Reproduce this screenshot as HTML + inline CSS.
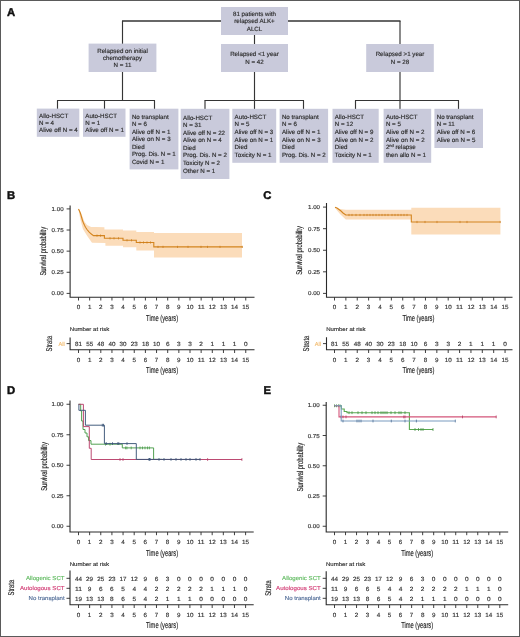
<!DOCTYPE html>
<html><head><meta charset="utf-8"><style>
html,body{margin:0;padding:0;background:#fff;}
svg{display:block;font-family:"Liberation Sans", sans-serif;-webkit-font-smoothing:antialiased;will-change:transform;text-rendering:geometricPrecision;filter:blur(0.25px);}
</style></head><body>
<svg width="520" height="637" viewBox="0 0 520 637">
<rect x="0" y="0" width="520" height="637" fill="#fff"/>
<line x1="122" y1="21" x2="400.5" y2="21" stroke="#353535" stroke-width="1.4"/>
<line x1="122.5" y1="21" x2="122.5" y2="44" stroke="#353535" stroke-width="1.15"/>
<line x1="122.5" y1="72" x2="122.5" y2="100.5" stroke="#353535" stroke-width="1.15"/>
<line x1="254.5" y1="35" x2="254.5" y2="44" stroke="#353535" stroke-width="1.15"/>
<line x1="254.5" y1="72" x2="254.5" y2="100.5" stroke="#353535" stroke-width="1.15"/>
<line x1="400" y1="21" x2="400" y2="44" stroke="#353535" stroke-width="1.15"/>
<line x1="400" y1="72" x2="400" y2="100.5" stroke="#353535" stroke-width="1.15"/>
<line x1="57.0" y1="100.5" x2="155.0" y2="100.5" stroke="#353535" stroke-width="1.15"/>
<line x1="204.5" y1="100.5" x2="304.0" y2="100.5" stroke="#353535" stroke-width="1.15"/>
<line x1="355.0" y1="100.5" x2="459.0" y2="100.5" stroke="#353535" stroke-width="1.15"/>
<line x1="57.5" y1="100.5" x2="57.5" y2="109" stroke="#353535" stroke-width="1.15"/>
<line x1="104.5" y1="100.5" x2="104.5" y2="109" stroke="#353535" stroke-width="1.15"/>
<line x1="154.5" y1="100.5" x2="154.5" y2="109" stroke="#353535" stroke-width="1.15"/>
<line x1="205" y1="100.5" x2="205" y2="109" stroke="#353535" stroke-width="1.15"/>
<line x1="254.5" y1="100.5" x2="254.5" y2="109" stroke="#353535" stroke-width="1.15"/>
<line x1="303.5" y1="100.5" x2="303.5" y2="109" stroke="#353535" stroke-width="1.15"/>
<line x1="355.5" y1="100.5" x2="355.5" y2="109" stroke="#353535" stroke-width="1.15"/>
<line x1="400" y1="100.5" x2="400" y2="109" stroke="#353535" stroke-width="1.15"/>
<line x1="458.5" y1="100.5" x2="458.5" y2="109" stroke="#353535" stroke-width="1.15"/>
<rect x="221" y="7" width="67" height="28" fill="#c9cadb"/>
<text x="254.50" y="15.60" font-size="6.2" stroke="#2e2e2e" stroke-width="0.16" text-anchor="middle" fill="#2e2e2e">81 patients with</text>
<text x="254.50" y="23.10" font-size="6.2" stroke="#2e2e2e" stroke-width="0.16" text-anchor="middle" fill="#2e2e2e">relapsed ALK+</text>
<text x="254.50" y="30.60" font-size="6.2" stroke="#2e2e2e" stroke-width="0.16" text-anchor="middle" fill="#2e2e2e">ALCL</text>
<rect x="88.6" y="43.6" width="67.80000000000001" height="28.4" fill="#c9cadb"/>
<text x="122.50" y="52.50" font-size="6.2" stroke="#2e2e2e" stroke-width="0.16" text-anchor="middle" fill="#2e2e2e">Relapsed on initial</text>
<text x="122.50" y="59.90" font-size="6.2" stroke="#2e2e2e" stroke-width="0.16" text-anchor="middle" fill="#2e2e2e">chemotherapy</text>
<text x="122.50" y="67.30" font-size="6.2" stroke="#2e2e2e" stroke-width="0.16" text-anchor="middle" fill="#2e2e2e">N = 11</text>
<rect x="221" y="44" width="67" height="28" fill="#c9cadb"/>
<text x="254.50" y="56.30" font-size="6.2" stroke="#2e2e2e" stroke-width="0.16" text-anchor="middle" fill="#2e2e2e">Relapsed &lt;1 year</text>
<text x="254.50" y="63.90" font-size="6.2" stroke="#2e2e2e" stroke-width="0.16" text-anchor="middle" fill="#2e2e2e">N = 42</text>
<rect x="366.2" y="44" width="67.60000000000002" height="28" fill="#c9cadb"/>
<text x="400.00" y="56.30" font-size="6.2" stroke="#2e2e2e" stroke-width="0.16" text-anchor="middle" fill="#2e2e2e">Relapsed &gt;1 year</text>
<text x="400.00" y="63.90" font-size="6.2" stroke="#2e2e2e" stroke-width="0.16" text-anchor="middle" fill="#2e2e2e">N = 28</text>
<rect x="36.8" y="108.6" width="42.5" height="28.200000000000017" fill="#c9cadb"/>
<text x="39.10" y="117.50" font-size="6.2" stroke="#2e2e2e" stroke-width="0.16" fill="#2e2e2e">Allo-HSCT</text>
<text x="39.10" y="124.95" font-size="6.2" stroke="#2e2e2e" stroke-width="0.16" fill="#2e2e2e">N = 4</text>
<text x="39.10" y="132.40" font-size="6.2" stroke="#2e2e2e" stroke-width="0.16" fill="#2e2e2e">Alive off N = 4</text>
<rect x="83" y="108.6" width="42.5" height="28.200000000000017" fill="#c9cadb"/>
<text x="85.30" y="117.50" font-size="6.2" stroke="#2e2e2e" stroke-width="0.16" fill="#2e2e2e">Auto-HSCT</text>
<text x="85.30" y="124.95" font-size="6.2" stroke="#2e2e2e" stroke-width="0.16" fill="#2e2e2e">N = 1</text>
<text x="85.30" y="132.40" font-size="6.2" stroke="#2e2e2e" stroke-width="0.16" fill="#2e2e2e">Alive off N = 1</text>
<rect x="129.6" y="108.7" width="48.80000000000001" height="60.7" fill="#c9cadb"/>
<text x="131.90" y="118.70" font-size="6.2" stroke="#2e2e2e" stroke-width="0.16" fill="#2e2e2e">No transplant</text>
<text x="131.90" y="126.20" font-size="6.2" stroke="#2e2e2e" stroke-width="0.16" fill="#2e2e2e">N = 6</text>
<text x="131.90" y="133.70" font-size="6.2" stroke="#2e2e2e" stroke-width="0.16" fill="#2e2e2e">Alive off N = 1</text>
<text x="131.90" y="141.20" font-size="6.2" stroke="#2e2e2e" stroke-width="0.16" fill="#2e2e2e">Alive on N = 3</text>
<text x="131.90" y="148.70" font-size="6.2" stroke="#2e2e2e" stroke-width="0.16" fill="#2e2e2e">Died</text>
<text x="131.90" y="156.20" font-size="6.2" stroke="#2e2e2e" stroke-width="0.16" fill="#2e2e2e">Prog. Dis. N = 1</text>
<text x="131.90" y="163.70" font-size="6.2" stroke="#2e2e2e" stroke-width="0.16" fill="#2e2e2e">Covid N = 1</text>
<rect x="180.7" y="108.8" width="48.70000000000002" height="70.2" fill="#c9cadb"/>
<text x="183.00" y="119.60" font-size="6.2" stroke="#2e2e2e" stroke-width="0.16" fill="#2e2e2e">Allo-HSCT</text>
<text x="183.00" y="127.16" font-size="6.2" stroke="#2e2e2e" stroke-width="0.16" fill="#2e2e2e">N = 31</text>
<text x="183.00" y="134.72" font-size="6.2" stroke="#2e2e2e" stroke-width="0.16" fill="#2e2e2e">Alive off N = 22</text>
<text x="183.00" y="142.28" font-size="6.2" stroke="#2e2e2e" stroke-width="0.16" fill="#2e2e2e">Alive on N = 4</text>
<text x="183.00" y="149.84" font-size="6.2" stroke="#2e2e2e" stroke-width="0.16" fill="#2e2e2e">Died</text>
<text x="183.00" y="157.40" font-size="6.2" stroke="#2e2e2e" stroke-width="0.16" fill="#2e2e2e">Prog. Dis. N = 2</text>
<text x="183.00" y="164.96" font-size="6.2" stroke="#2e2e2e" stroke-width="0.16" fill="#2e2e2e">Toxicity N = 2</text>
<text x="183.00" y="172.52" font-size="6.2" stroke="#2e2e2e" stroke-width="0.16" fill="#2e2e2e">Other N = 1</text>
<rect x="232.3" y="108.8" width="43.89999999999998" height="54.000000000000014" fill="#c9cadb"/>
<text x="234.60" y="118.80" font-size="6.2" stroke="#2e2e2e" stroke-width="0.16" fill="#2e2e2e">Auto-HSCT</text>
<text x="234.60" y="126.40" font-size="6.2" stroke="#2e2e2e" stroke-width="0.16" fill="#2e2e2e">N = 5</text>
<text x="234.60" y="134.00" font-size="6.2" stroke="#2e2e2e" stroke-width="0.16" fill="#2e2e2e">Alive off N = 3</text>
<text x="234.60" y="141.60" font-size="6.2" stroke="#2e2e2e" stroke-width="0.16" fill="#2e2e2e">Alive on N = 1</text>
<text x="234.60" y="149.20" font-size="6.2" stroke="#2e2e2e" stroke-width="0.16" fill="#2e2e2e">Died</text>
<text x="234.60" y="156.80" font-size="6.2" stroke="#2e2e2e" stroke-width="0.16" fill="#2e2e2e">Toxicity N = 1</text>
<rect x="279.6" y="108.8" width="48.5" height="54.000000000000014" fill="#c9cadb"/>
<text x="281.90" y="118.80" font-size="6.2" stroke="#2e2e2e" stroke-width="0.16" fill="#2e2e2e">No transplant</text>
<text x="281.90" y="126.40" font-size="6.2" stroke="#2e2e2e" stroke-width="0.16" fill="#2e2e2e">N = 6</text>
<text x="281.90" y="134.00" font-size="6.2" stroke="#2e2e2e" stroke-width="0.16" fill="#2e2e2e">Alive off N = 1</text>
<text x="281.90" y="141.60" font-size="6.2" stroke="#2e2e2e" stroke-width="0.16" fill="#2e2e2e">Alive on N = 3</text>
<text x="281.90" y="149.20" font-size="6.2" stroke="#2e2e2e" stroke-width="0.16" fill="#2e2e2e">Died</text>
<text x="281.90" y="156.80" font-size="6.2" stroke="#2e2e2e" stroke-width="0.16" fill="#2e2e2e">Prog. Dis. N = 2</text>
<rect x="332.5" y="108.8" width="46.19999999999999" height="54.000000000000014" fill="#c9cadb"/>
<text x="334.80" y="118.80" font-size="6.2" stroke="#2e2e2e" stroke-width="0.16" fill="#2e2e2e">Allo-HSCT</text>
<text x="334.80" y="126.40" font-size="6.2" stroke="#2e2e2e" stroke-width="0.16" fill="#2e2e2e">N = 12</text>
<text x="334.80" y="134.00" font-size="6.2" stroke="#2e2e2e" stroke-width="0.16" fill="#2e2e2e">Alive off N = 9</text>
<text x="334.80" y="141.60" font-size="6.2" stroke="#2e2e2e" stroke-width="0.16" fill="#2e2e2e">Alive on N = 2</text>
<text x="334.80" y="149.20" font-size="6.2" stroke="#2e2e2e" stroke-width="0.16" fill="#2e2e2e">Died</text>
<text x="334.80" y="156.80" font-size="6.2" stroke="#2e2e2e" stroke-width="0.16" fill="#2e2e2e">Toxicity N = 1</text>
<rect x="383.6" y="108.8" width="47.599999999999966" height="54.000000000000014" fill="#c9cadb"/>
<text x="385.90" y="118.80" font-size="6.2" stroke="#2e2e2e" stroke-width="0.16" fill="#2e2e2e">Auto-HSCT</text>
<text x="385.90" y="126.40" font-size="6.2" stroke="#2e2e2e" stroke-width="0.16" fill="#2e2e2e">N = 5</text>
<text x="385.90" y="134.00" font-size="6.2" stroke="#2e2e2e" stroke-width="0.16" fill="#2e2e2e">Alive off N = 2</text>
<text x="385.90" y="141.60" font-size="6.2" stroke="#2e2e2e" stroke-width="0.16" fill="#2e2e2e">Alive on N = 2</text>
<text x="385.90" y="149.20" font-size="6.2" fill="#2e2e2e" stroke="#2e2e2e" stroke-width="0.16">2<tspan font-size="4" dy="-2.3">nd</tspan><tspan dy="2.3"> relapse</tspan></text>
<text x="385.90" y="156.80" font-size="6.2" stroke="#2e2e2e" stroke-width="0.16" fill="#2e2e2e">then allo N = 1</text>
<rect x="434.4" y="108.8" width="48.60000000000002" height="39.2" fill="#c9cadb"/>
<text x="436.70" y="118.80" font-size="6.2" stroke="#2e2e2e" stroke-width="0.16" fill="#2e2e2e">No transplant</text>
<text x="436.70" y="126.40" font-size="6.2" stroke="#2e2e2e" stroke-width="0.16" fill="#2e2e2e">N = 11</text>
<text x="436.70" y="134.00" font-size="6.2" stroke="#2e2e2e" stroke-width="0.16" fill="#2e2e2e">Alive off N = 6</text>
<text x="436.70" y="141.60" font-size="6.2" stroke="#2e2e2e" stroke-width="0.16" fill="#2e2e2e">Alive on N = 5</text>
<text x="6.90" y="16.30" font-size="11.3" stroke="#111" stroke-width="0.45" fill="#111" font-weight="bold">A</text>
<text x="7.10" y="199.00" font-size="11.3" stroke="#111" stroke-width="0.45" fill="#111" font-weight="bold">B</text>
<text x="263.30" y="199.10" font-size="11.3" stroke="#111" stroke-width="0.45" fill="#111" font-weight="bold">C</text>
<text x="7.10" y="394.20" font-size="11.3" stroke="#111" stroke-width="0.45" fill="#111" font-weight="bold">D</text>
<text x="263.60" y="394.20" font-size="11.3" stroke="#111" stroke-width="0.45" fill="#111" font-weight="bold">E</text>
<path d="M78.50 208.90 L80.50 212.00 L82.50 216.50 L84.30 221.50 L87.00 225.00 L91.20 227.10 L96.00 227.10 L104.40 227.30 L104.40 229.40 L123.00 229.40 L123.00 230.60 L136.30 230.60 L136.30 232.00 L154.00 232.00 L154.00 233.00 L242.00 233.00 L242.00 257.60 L154.00 257.60 L154.00 250.60 L136.30 250.60 L136.30 247.30 L123.00 247.30 L123.00 245.70 L105.40 245.70 L105.40 243.00 L92.00 242.70 L87.10 235.80 L82.90 228.90 L80.50 220.00 L78.50 210.00 Z" fill="#fbdcba"/>
<path d="M78.50 208.90 L79.50 211.00 L80.50 213.50 L81.50 217.00 L82.50 220.50 L83.40 222.80 L84.50 225.20 L85.50 227.20 L87.00 229.50 L89.00 231.80 L91.00 233.80 L93.50 235.60 L104.40 235.60 L104.40 238.30 L123.00 238.30 L123.00 240.30 L136.30 240.30 L136.30 242.50 L153.80 242.50 L153.80 246.90 L242.50 246.90" fill="none" stroke="#d4841e" stroke-width="1.1"/>
<line x1="97" y1="234.5" x2="97" y2="236.7" stroke="#c87a1a" stroke-width="0.7"/>
<line x1="100.5" y1="234.5" x2="100.5" y2="236.7" stroke="#c87a1a" stroke-width="0.7"/>
<line x1="110" y1="237.20000000000002" x2="110" y2="239.4" stroke="#c87a1a" stroke-width="0.7"/>
<line x1="114" y1="237.20000000000002" x2="114" y2="239.4" stroke="#c87a1a" stroke-width="0.7"/>
<line x1="118.5" y1="237.20000000000002" x2="118.5" y2="239.4" stroke="#c87a1a" stroke-width="0.7"/>
<line x1="127" y1="239.20000000000002" x2="127" y2="241.4" stroke="#c87a1a" stroke-width="0.7"/>
<line x1="131.5" y1="239.20000000000002" x2="131.5" y2="241.4" stroke="#c87a1a" stroke-width="0.7"/>
<line x1="140" y1="241.4" x2="140" y2="243.6" stroke="#c87a1a" stroke-width="0.7"/>
<line x1="143.5" y1="241.4" x2="143.5" y2="243.6" stroke="#c87a1a" stroke-width="0.7"/>
<line x1="147" y1="241.4" x2="147" y2="243.6" stroke="#c87a1a" stroke-width="0.7"/>
<line x1="150.5" y1="241.4" x2="150.5" y2="243.6" stroke="#c87a1a" stroke-width="0.7"/>
<line x1="158" y1="245.8" x2="158" y2="248.0" stroke="#c87a1a" stroke-width="0.7"/>
<line x1="163" y1="245.8" x2="163" y2="248.0" stroke="#c87a1a" stroke-width="0.7"/>
<line x1="177.5" y1="245.8" x2="177.5" y2="248.0" stroke="#c87a1a" stroke-width="0.7"/>
<line x1="188" y1="245.8" x2="188" y2="248.0" stroke="#c87a1a" stroke-width="0.7"/>
<line x1="201" y1="245.8" x2="201" y2="248.0" stroke="#c87a1a" stroke-width="0.7"/>
<line x1="207.5" y1="245.8" x2="207.5" y2="248.0" stroke="#c87a1a" stroke-width="0.7"/>
<line x1="220" y1="245.8" x2="220" y2="248.0" stroke="#c87a1a" stroke-width="0.7"/>
<line x1="242.3" y1="245.8" x2="242.3" y2="248.0" stroke="#c87a1a" stroke-width="0.7"/>
<line x1="66.6" y1="293.4" x2="70.1" y2="293.4" stroke="#2a2a2a" stroke-width="0.9"/>
<text x="63.60" y="295.40" font-size="5.8" stroke="#333" stroke-width="0.15" text-anchor="end" textLength="12.00" lengthAdjust="spacingAndGlyphs" fill="#333">0.00</text>
<line x1="66.6" y1="272.275" x2="70.1" y2="272.275" stroke="#2a2a2a" stroke-width="0.9"/>
<text x="63.60" y="274.27" font-size="5.8" stroke="#333" stroke-width="0.15" text-anchor="end" textLength="12.00" lengthAdjust="spacingAndGlyphs" fill="#333">0.25</text>
<line x1="66.6" y1="251.14999999999998" x2="70.1" y2="251.14999999999998" stroke="#2a2a2a" stroke-width="0.9"/>
<text x="63.60" y="253.15" font-size="5.8" stroke="#333" stroke-width="0.15" text-anchor="end" textLength="12.00" lengthAdjust="spacingAndGlyphs" fill="#333">0.50</text>
<line x1="66.6" y1="230.02499999999998" x2="70.1" y2="230.02499999999998" stroke="#2a2a2a" stroke-width="0.9"/>
<text x="63.60" y="232.02" font-size="5.8" stroke="#333" stroke-width="0.15" text-anchor="end" textLength="12.00" lengthAdjust="spacingAndGlyphs" fill="#333">0.75</text>
<line x1="66.6" y1="208.89999999999998" x2="70.1" y2="208.89999999999998" stroke="#2a2a2a" stroke-width="0.9"/>
<text x="63.60" y="210.90" font-size="5.8" stroke="#333" stroke-width="0.15" text-anchor="end" textLength="12.00" lengthAdjust="spacingAndGlyphs" fill="#333">1.00</text>
<line x1="78.5" y1="297.3" x2="78.5" y2="300.5" stroke="#2a2a2a" stroke-width="0.9"/>
<text x="78.50" y="309.10" font-size="6.0" stroke="#333" stroke-width="0.15" text-anchor="middle" textLength="3.50" lengthAdjust="spacingAndGlyphs" fill="#333">0</text>
<line x1="89.65" y1="297.3" x2="89.65" y2="300.5" stroke="#2a2a2a" stroke-width="0.9"/>
<text x="89.65" y="309.10" font-size="6.0" stroke="#333" stroke-width="0.15" text-anchor="middle" textLength="3.50" lengthAdjust="spacingAndGlyphs" fill="#333">1</text>
<line x1="100.8" y1="297.3" x2="100.8" y2="300.5" stroke="#2a2a2a" stroke-width="0.9"/>
<text x="100.80" y="309.10" font-size="6.0" stroke="#333" stroke-width="0.15" text-anchor="middle" textLength="3.50" lengthAdjust="spacingAndGlyphs" fill="#333">2</text>
<line x1="111.95" y1="297.3" x2="111.95" y2="300.5" stroke="#2a2a2a" stroke-width="0.9"/>
<text x="111.95" y="309.10" font-size="6.0" stroke="#333" stroke-width="0.15" text-anchor="middle" textLength="3.50" lengthAdjust="spacingAndGlyphs" fill="#333">3</text>
<line x1="123.1" y1="297.3" x2="123.1" y2="300.5" stroke="#2a2a2a" stroke-width="0.9"/>
<text x="123.10" y="309.10" font-size="6.0" stroke="#333" stroke-width="0.15" text-anchor="middle" textLength="3.50" lengthAdjust="spacingAndGlyphs" fill="#333">4</text>
<line x1="134.25" y1="297.3" x2="134.25" y2="300.5" stroke="#2a2a2a" stroke-width="0.9"/>
<text x="134.25" y="309.10" font-size="6.0" stroke="#333" stroke-width="0.15" text-anchor="middle" textLength="3.50" lengthAdjust="spacingAndGlyphs" fill="#333">5</text>
<line x1="145.4" y1="297.3" x2="145.4" y2="300.5" stroke="#2a2a2a" stroke-width="0.9"/>
<text x="145.40" y="309.10" font-size="6.0" stroke="#333" stroke-width="0.15" text-anchor="middle" textLength="3.50" lengthAdjust="spacingAndGlyphs" fill="#333">6</text>
<line x1="156.55" y1="297.3" x2="156.55" y2="300.5" stroke="#2a2a2a" stroke-width="0.9"/>
<text x="156.55" y="309.10" font-size="6.0" stroke="#333" stroke-width="0.15" text-anchor="middle" textLength="3.50" lengthAdjust="spacingAndGlyphs" fill="#333">7</text>
<line x1="167.7" y1="297.3" x2="167.7" y2="300.5" stroke="#2a2a2a" stroke-width="0.9"/>
<text x="167.70" y="309.10" font-size="6.0" stroke="#333" stroke-width="0.15" text-anchor="middle" textLength="3.50" lengthAdjust="spacingAndGlyphs" fill="#333">8</text>
<line x1="178.85000000000002" y1="297.3" x2="178.85000000000002" y2="300.5" stroke="#2a2a2a" stroke-width="0.9"/>
<text x="178.85" y="309.10" font-size="6.0" stroke="#333" stroke-width="0.15" text-anchor="middle" textLength="3.50" lengthAdjust="spacingAndGlyphs" fill="#333">9</text>
<line x1="190.0" y1="297.3" x2="190.0" y2="300.5" stroke="#2a2a2a" stroke-width="0.9"/>
<text x="190.00" y="309.10" font-size="6.0" stroke="#333" stroke-width="0.15" text-anchor="middle" textLength="7.00" lengthAdjust="spacingAndGlyphs" fill="#333">10</text>
<line x1="201.15" y1="297.3" x2="201.15" y2="300.5" stroke="#2a2a2a" stroke-width="0.9"/>
<text x="201.15" y="309.10" font-size="6.0" stroke="#333" stroke-width="0.15" text-anchor="middle" textLength="7.00" lengthAdjust="spacingAndGlyphs" fill="#333">11</text>
<line x1="212.3" y1="297.3" x2="212.3" y2="300.5" stroke="#2a2a2a" stroke-width="0.9"/>
<text x="212.30" y="309.10" font-size="6.0" stroke="#333" stroke-width="0.15" text-anchor="middle" textLength="7.00" lengthAdjust="spacingAndGlyphs" fill="#333">12</text>
<line x1="223.45000000000002" y1="297.3" x2="223.45000000000002" y2="300.5" stroke="#2a2a2a" stroke-width="0.9"/>
<text x="223.45" y="309.10" font-size="6.0" stroke="#333" stroke-width="0.15" text-anchor="middle" textLength="7.00" lengthAdjust="spacingAndGlyphs" fill="#333">13</text>
<line x1="234.6" y1="297.3" x2="234.6" y2="300.5" stroke="#2a2a2a" stroke-width="0.9"/>
<text x="234.60" y="309.10" font-size="6.0" stroke="#333" stroke-width="0.15" text-anchor="middle" textLength="7.00" lengthAdjust="spacingAndGlyphs" fill="#333">14</text>
<line x1="245.75" y1="297.3" x2="245.75" y2="300.5" stroke="#2a2a2a" stroke-width="0.9"/>
<text x="245.75" y="309.10" font-size="6.0" stroke="#333" stroke-width="0.15" text-anchor="middle" textLength="7.00" lengthAdjust="spacingAndGlyphs" fill="#333">15</text>
<path d="M70.1 205.5 V297.3 H254.5" fill="none" stroke="#2a2a2a" stroke-width="1.1"/>
<text x="162.12" y="320.90" font-size="8.7" stroke="#222" stroke-width="0.15" text-anchor="middle" textLength="32.00" lengthAdjust="spacingAndGlyphs" fill="#222">Time (years)</text>
<text x="46.00" y="251.25" font-size="8.5" stroke="#222" stroke-width="0.15" text-anchor="middle" textLength="48.70" lengthAdjust="spacingAndGlyphs" fill="#222" transform="rotate(-90 46.00 251.25)">Survival probability</text>
<text x="69.80" y="331.30" font-size="5.5" stroke="#333" stroke-width="0.15" textLength="39.40" lengthAdjust="spacingAndGlyphs" fill="#333">Number at risk</text>
<line x1="66.6" y1="343.6" x2="70.1" y2="343.6" stroke="#2a2a2a" stroke-width="0.9"/>
<text x="64.70" y="345.60" font-size="5.7" stroke="#f2bd72" stroke-width="0.15" text-anchor="end" textLength="6.30" lengthAdjust="spacingAndGlyphs" fill="#f2bd72">All</text>
<text x="78.50" y="345.80" font-size="6.0" stroke="#333" stroke-width="0.15" text-anchor="middle" textLength="7.00" lengthAdjust="spacingAndGlyphs" fill="#333">81</text>
<text x="89.65" y="345.80" font-size="6.0" stroke="#333" stroke-width="0.15" text-anchor="middle" textLength="7.00" lengthAdjust="spacingAndGlyphs" fill="#333">55</text>
<text x="100.80" y="345.80" font-size="6.0" stroke="#333" stroke-width="0.15" text-anchor="middle" textLength="7.00" lengthAdjust="spacingAndGlyphs" fill="#333">48</text>
<text x="111.95" y="345.80" font-size="6.0" stroke="#333" stroke-width="0.15" text-anchor="middle" textLength="7.00" lengthAdjust="spacingAndGlyphs" fill="#333">40</text>
<text x="123.10" y="345.80" font-size="6.0" stroke="#333" stroke-width="0.15" text-anchor="middle" textLength="7.00" lengthAdjust="spacingAndGlyphs" fill="#333">30</text>
<text x="134.25" y="345.80" font-size="6.0" stroke="#333" stroke-width="0.15" text-anchor="middle" textLength="7.00" lengthAdjust="spacingAndGlyphs" fill="#333">23</text>
<text x="145.40" y="345.80" font-size="6.0" stroke="#333" stroke-width="0.15" text-anchor="middle" textLength="7.00" lengthAdjust="spacingAndGlyphs" fill="#333">18</text>
<text x="156.55" y="345.80" font-size="6.0" stroke="#333" stroke-width="0.15" text-anchor="middle" textLength="7.00" lengthAdjust="spacingAndGlyphs" fill="#333">10</text>
<text x="167.70" y="345.80" font-size="6.0" stroke="#333" stroke-width="0.15" text-anchor="middle" textLength="3.60" lengthAdjust="spacingAndGlyphs" fill="#333">6</text>
<text x="178.85" y="345.80" font-size="6.0" stroke="#333" stroke-width="0.15" text-anchor="middle" textLength="3.60" lengthAdjust="spacingAndGlyphs" fill="#333">3</text>
<text x="190.00" y="345.80" font-size="6.0" stroke="#333" stroke-width="0.15" text-anchor="middle" textLength="3.60" lengthAdjust="spacingAndGlyphs" fill="#333">3</text>
<text x="201.15" y="345.80" font-size="6.0" stroke="#333" stroke-width="0.15" text-anchor="middle" textLength="3.60" lengthAdjust="spacingAndGlyphs" fill="#333">2</text>
<text x="212.30" y="345.80" font-size="6.0" stroke="#333" stroke-width="0.15" text-anchor="middle" textLength="3.60" lengthAdjust="spacingAndGlyphs" fill="#333">1</text>
<text x="223.45" y="345.80" font-size="6.0" stroke="#333" stroke-width="0.15" text-anchor="middle" textLength="3.60" lengthAdjust="spacingAndGlyphs" fill="#333">1</text>
<text x="234.60" y="345.80" font-size="6.0" stroke="#333" stroke-width="0.15" text-anchor="middle" textLength="3.60" lengthAdjust="spacingAndGlyphs" fill="#333">1</text>
<text x="245.75" y="345.80" font-size="6.0" stroke="#333" stroke-width="0.15" text-anchor="middle" textLength="3.60" lengthAdjust="spacingAndGlyphs" fill="#333">0</text>
<line x1="78.5" y1="349.8" x2="78.5" y2="353.0" stroke="#2a2a2a" stroke-width="0.9"/>
<text x="78.50" y="361.60" font-size="6.0" stroke="#333" stroke-width="0.15" text-anchor="middle" textLength="3.50" lengthAdjust="spacingAndGlyphs" fill="#333">0</text>
<line x1="89.65" y1="349.8" x2="89.65" y2="353.0" stroke="#2a2a2a" stroke-width="0.9"/>
<text x="89.65" y="361.60" font-size="6.0" stroke="#333" stroke-width="0.15" text-anchor="middle" textLength="3.50" lengthAdjust="spacingAndGlyphs" fill="#333">1</text>
<line x1="100.8" y1="349.8" x2="100.8" y2="353.0" stroke="#2a2a2a" stroke-width="0.9"/>
<text x="100.80" y="361.60" font-size="6.0" stroke="#333" stroke-width="0.15" text-anchor="middle" textLength="3.50" lengthAdjust="spacingAndGlyphs" fill="#333">2</text>
<line x1="111.95" y1="349.8" x2="111.95" y2="353.0" stroke="#2a2a2a" stroke-width="0.9"/>
<text x="111.95" y="361.60" font-size="6.0" stroke="#333" stroke-width="0.15" text-anchor="middle" textLength="3.50" lengthAdjust="spacingAndGlyphs" fill="#333">3</text>
<line x1="123.1" y1="349.8" x2="123.1" y2="353.0" stroke="#2a2a2a" stroke-width="0.9"/>
<text x="123.10" y="361.60" font-size="6.0" stroke="#333" stroke-width="0.15" text-anchor="middle" textLength="3.50" lengthAdjust="spacingAndGlyphs" fill="#333">4</text>
<line x1="134.25" y1="349.8" x2="134.25" y2="353.0" stroke="#2a2a2a" stroke-width="0.9"/>
<text x="134.25" y="361.60" font-size="6.0" stroke="#333" stroke-width="0.15" text-anchor="middle" textLength="3.50" lengthAdjust="spacingAndGlyphs" fill="#333">5</text>
<line x1="145.4" y1="349.8" x2="145.4" y2="353.0" stroke="#2a2a2a" stroke-width="0.9"/>
<text x="145.40" y="361.60" font-size="6.0" stroke="#333" stroke-width="0.15" text-anchor="middle" textLength="3.50" lengthAdjust="spacingAndGlyphs" fill="#333">6</text>
<line x1="156.55" y1="349.8" x2="156.55" y2="353.0" stroke="#2a2a2a" stroke-width="0.9"/>
<text x="156.55" y="361.60" font-size="6.0" stroke="#333" stroke-width="0.15" text-anchor="middle" textLength="3.50" lengthAdjust="spacingAndGlyphs" fill="#333">7</text>
<line x1="167.7" y1="349.8" x2="167.7" y2="353.0" stroke="#2a2a2a" stroke-width="0.9"/>
<text x="167.70" y="361.60" font-size="6.0" stroke="#333" stroke-width="0.15" text-anchor="middle" textLength="3.50" lengthAdjust="spacingAndGlyphs" fill="#333">8</text>
<line x1="178.85000000000002" y1="349.8" x2="178.85000000000002" y2="353.0" stroke="#2a2a2a" stroke-width="0.9"/>
<text x="178.85" y="361.60" font-size="6.0" stroke="#333" stroke-width="0.15" text-anchor="middle" textLength="3.50" lengthAdjust="spacingAndGlyphs" fill="#333">9</text>
<line x1="190.0" y1="349.8" x2="190.0" y2="353.0" stroke="#2a2a2a" stroke-width="0.9"/>
<text x="190.00" y="361.60" font-size="6.0" stroke="#333" stroke-width="0.15" text-anchor="middle" textLength="7.00" lengthAdjust="spacingAndGlyphs" fill="#333">10</text>
<line x1="201.15" y1="349.8" x2="201.15" y2="353.0" stroke="#2a2a2a" stroke-width="0.9"/>
<text x="201.15" y="361.60" font-size="6.0" stroke="#333" stroke-width="0.15" text-anchor="middle" textLength="7.00" lengthAdjust="spacingAndGlyphs" fill="#333">11</text>
<line x1="212.3" y1="349.8" x2="212.3" y2="353.0" stroke="#2a2a2a" stroke-width="0.9"/>
<text x="212.30" y="361.60" font-size="6.0" stroke="#333" stroke-width="0.15" text-anchor="middle" textLength="7.00" lengthAdjust="spacingAndGlyphs" fill="#333">12</text>
<line x1="223.45000000000002" y1="349.8" x2="223.45000000000002" y2="353.0" stroke="#2a2a2a" stroke-width="0.9"/>
<text x="223.45" y="361.60" font-size="6.0" stroke="#333" stroke-width="0.15" text-anchor="middle" textLength="7.00" lengthAdjust="spacingAndGlyphs" fill="#333">13</text>
<line x1="234.6" y1="349.8" x2="234.6" y2="353.0" stroke="#2a2a2a" stroke-width="0.9"/>
<text x="234.60" y="361.60" font-size="6.0" stroke="#333" stroke-width="0.15" text-anchor="middle" textLength="7.00" lengthAdjust="spacingAndGlyphs" fill="#333">14</text>
<line x1="245.75" y1="349.8" x2="245.75" y2="353.0" stroke="#2a2a2a" stroke-width="0.9"/>
<text x="245.75" y="361.60" font-size="6.0" stroke="#333" stroke-width="0.15" text-anchor="middle" textLength="7.00" lengthAdjust="spacingAndGlyphs" fill="#333">15</text>
<path d="M70.1 337.5 V349.8 H254.5" fill="none" stroke="#2a2a2a" stroke-width="1.1"/>
<text x="162.12" y="373.30" font-size="8.7" stroke="#222" stroke-width="0.15" text-anchor="middle" textLength="32.00" lengthAdjust="spacingAndGlyphs" fill="#222">Time (years)</text>
<text x="52.30" y="343.65" font-size="8.4" stroke="#222" stroke-width="0.15" text-anchor="middle" textLength="15.70" lengthAdjust="spacingAndGlyphs" fill="#222" transform="rotate(-90 52.30 343.65)">Strata</text>
<path d="M335.00 207.30 L340.00 209.00 L345.80 209.80 L411.30 209.80 L411.30 207.70 L500.40 207.70 L500.40 234.40 L411.30 234.40 L411.30 219.40 L345.80 219.40 L340.00 214.00 L335.00 208.00 Z" fill="#fbdcba"/>
<path d="M335.00 207.30 L337.00 208.00 L339.00 209.50 L341.00 211.00 L343.00 213.00 L345.80 215.00 L411.30 215.00 L411.30 222.00 L500.40 222.00" fill="none" stroke="#d4841e" stroke-width="1.1"/>
<line x1="349" y1="213.9" x2="349" y2="216.1" stroke="#c87a1a" stroke-width="0.7"/>
<line x1="352" y1="213.9" x2="352" y2="216.1" stroke="#c87a1a" stroke-width="0.7"/>
<line x1="356" y1="213.9" x2="356" y2="216.1" stroke="#c87a1a" stroke-width="0.7"/>
<line x1="360" y1="213.9" x2="360" y2="216.1" stroke="#c87a1a" stroke-width="0.7"/>
<line x1="364" y1="213.9" x2="364" y2="216.1" stroke="#c87a1a" stroke-width="0.7"/>
<line x1="367" y1="213.9" x2="367" y2="216.1" stroke="#c87a1a" stroke-width="0.7"/>
<line x1="370" y1="213.9" x2="370" y2="216.1" stroke="#c87a1a" stroke-width="0.7"/>
<line x1="373" y1="213.9" x2="373" y2="216.1" stroke="#c87a1a" stroke-width="0.7"/>
<line x1="376" y1="213.9" x2="376" y2="216.1" stroke="#c87a1a" stroke-width="0.7"/>
<line x1="379" y1="213.9" x2="379" y2="216.1" stroke="#c87a1a" stroke-width="0.7"/>
<line x1="382" y1="213.9" x2="382" y2="216.1" stroke="#c87a1a" stroke-width="0.7"/>
<line x1="385" y1="213.9" x2="385" y2="216.1" stroke="#c87a1a" stroke-width="0.7"/>
<line x1="388" y1="213.9" x2="388" y2="216.1" stroke="#c87a1a" stroke-width="0.7"/>
<line x1="392" y1="213.9" x2="392" y2="216.1" stroke="#c87a1a" stroke-width="0.7"/>
<line x1="395" y1="213.9" x2="395" y2="216.1" stroke="#c87a1a" stroke-width="0.7"/>
<line x1="398" y1="213.9" x2="398" y2="216.1" stroke="#c87a1a" stroke-width="0.7"/>
<line x1="401" y1="213.9" x2="401" y2="216.1" stroke="#c87a1a" stroke-width="0.7"/>
<line x1="404" y1="213.9" x2="404" y2="216.1" stroke="#c87a1a" stroke-width="0.7"/>
<line x1="407" y1="213.9" x2="407" y2="216.1" stroke="#c87a1a" stroke-width="0.7"/>
<line x1="417" y1="220.9" x2="417" y2="223.1" stroke="#c87a1a" stroke-width="0.7"/>
<line x1="425" y1="220.9" x2="425" y2="223.1" stroke="#c87a1a" stroke-width="0.7"/>
<line x1="437" y1="220.9" x2="437" y2="223.1" stroke="#c87a1a" stroke-width="0.7"/>
<line x1="460" y1="220.9" x2="460" y2="223.1" stroke="#c87a1a" stroke-width="0.7"/>
<line x1="467" y1="220.9" x2="467" y2="223.1" stroke="#c87a1a" stroke-width="0.7"/>
<line x1="500.2" y1="220.9" x2="500.2" y2="223.1" stroke="#c87a1a" stroke-width="0.7"/>
<line x1="323.0" y1="293.4" x2="326.5" y2="293.4" stroke="#2a2a2a" stroke-width="0.9"/>
<text x="320.00" y="295.40" font-size="5.8" stroke="#333" stroke-width="0.15" text-anchor="end" textLength="12.00" lengthAdjust="spacingAndGlyphs" fill="#333">0.00</text>
<line x1="323.0" y1="271.825" x2="326.5" y2="271.825" stroke="#2a2a2a" stroke-width="0.9"/>
<text x="320.00" y="273.82" font-size="5.8" stroke="#333" stroke-width="0.15" text-anchor="end" textLength="12.00" lengthAdjust="spacingAndGlyphs" fill="#333">0.25</text>
<line x1="323.0" y1="250.24999999999997" x2="326.5" y2="250.24999999999997" stroke="#2a2a2a" stroke-width="0.9"/>
<text x="320.00" y="252.25" font-size="5.8" stroke="#333" stroke-width="0.15" text-anchor="end" textLength="12.00" lengthAdjust="spacingAndGlyphs" fill="#333">0.50</text>
<line x1="323.0" y1="228.67499999999998" x2="326.5" y2="228.67499999999998" stroke="#2a2a2a" stroke-width="0.9"/>
<text x="320.00" y="230.67" font-size="5.8" stroke="#333" stroke-width="0.15" text-anchor="end" textLength="12.00" lengthAdjust="spacingAndGlyphs" fill="#333">0.75</text>
<line x1="323.0" y1="207.09999999999997" x2="326.5" y2="207.09999999999997" stroke="#2a2a2a" stroke-width="0.9"/>
<text x="320.00" y="209.10" font-size="5.8" stroke="#333" stroke-width="0.15" text-anchor="end" textLength="12.00" lengthAdjust="spacingAndGlyphs" fill="#333">1.00</text>
<line x1="334.5" y1="297.3" x2="334.5" y2="300.5" stroke="#2a2a2a" stroke-width="0.9"/>
<text x="334.50" y="309.10" font-size="6.0" stroke="#333" stroke-width="0.15" text-anchor="middle" textLength="3.50" lengthAdjust="spacingAndGlyphs" fill="#333">0</text>
<line x1="345.87" y1="297.3" x2="345.87" y2="300.5" stroke="#2a2a2a" stroke-width="0.9"/>
<text x="345.87" y="309.10" font-size="6.0" stroke="#333" stroke-width="0.15" text-anchor="middle" textLength="3.50" lengthAdjust="spacingAndGlyphs" fill="#333">1</text>
<line x1="357.24" y1="297.3" x2="357.24" y2="300.5" stroke="#2a2a2a" stroke-width="0.9"/>
<text x="357.24" y="309.10" font-size="6.0" stroke="#333" stroke-width="0.15" text-anchor="middle" textLength="3.50" lengthAdjust="spacingAndGlyphs" fill="#333">2</text>
<line x1="368.61" y1="297.3" x2="368.61" y2="300.5" stroke="#2a2a2a" stroke-width="0.9"/>
<text x="368.61" y="309.10" font-size="6.0" stroke="#333" stroke-width="0.15" text-anchor="middle" textLength="3.50" lengthAdjust="spacingAndGlyphs" fill="#333">3</text>
<line x1="379.98" y1="297.3" x2="379.98" y2="300.5" stroke="#2a2a2a" stroke-width="0.9"/>
<text x="379.98" y="309.10" font-size="6.0" stroke="#333" stroke-width="0.15" text-anchor="middle" textLength="3.50" lengthAdjust="spacingAndGlyphs" fill="#333">4</text>
<line x1="391.35" y1="297.3" x2="391.35" y2="300.5" stroke="#2a2a2a" stroke-width="0.9"/>
<text x="391.35" y="309.10" font-size="6.0" stroke="#333" stroke-width="0.15" text-anchor="middle" textLength="3.50" lengthAdjust="spacingAndGlyphs" fill="#333">5</text>
<line x1="402.72" y1="297.3" x2="402.72" y2="300.5" stroke="#2a2a2a" stroke-width="0.9"/>
<text x="402.72" y="309.10" font-size="6.0" stroke="#333" stroke-width="0.15" text-anchor="middle" textLength="3.50" lengthAdjust="spacingAndGlyphs" fill="#333">6</text>
<line x1="414.09" y1="297.3" x2="414.09" y2="300.5" stroke="#2a2a2a" stroke-width="0.9"/>
<text x="414.09" y="309.10" font-size="6.0" stroke="#333" stroke-width="0.15" text-anchor="middle" textLength="3.50" lengthAdjust="spacingAndGlyphs" fill="#333">7</text>
<line x1="425.46" y1="297.3" x2="425.46" y2="300.5" stroke="#2a2a2a" stroke-width="0.9"/>
<text x="425.46" y="309.10" font-size="6.0" stroke="#333" stroke-width="0.15" text-anchor="middle" textLength="3.50" lengthAdjust="spacingAndGlyphs" fill="#333">8</text>
<line x1="436.83" y1="297.3" x2="436.83" y2="300.5" stroke="#2a2a2a" stroke-width="0.9"/>
<text x="436.83" y="309.10" font-size="6.0" stroke="#333" stroke-width="0.15" text-anchor="middle" textLength="3.50" lengthAdjust="spacingAndGlyphs" fill="#333">9</text>
<line x1="448.2" y1="297.3" x2="448.2" y2="300.5" stroke="#2a2a2a" stroke-width="0.9"/>
<text x="448.20" y="309.10" font-size="6.0" stroke="#333" stroke-width="0.15" text-anchor="middle" textLength="7.00" lengthAdjust="spacingAndGlyphs" fill="#333">10</text>
<line x1="459.57" y1="297.3" x2="459.57" y2="300.5" stroke="#2a2a2a" stroke-width="0.9"/>
<text x="459.57" y="309.10" font-size="6.0" stroke="#333" stroke-width="0.15" text-anchor="middle" textLength="7.00" lengthAdjust="spacingAndGlyphs" fill="#333">11</text>
<line x1="470.94" y1="297.3" x2="470.94" y2="300.5" stroke="#2a2a2a" stroke-width="0.9"/>
<text x="470.94" y="309.10" font-size="6.0" stroke="#333" stroke-width="0.15" text-anchor="middle" textLength="7.00" lengthAdjust="spacingAndGlyphs" fill="#333">12</text>
<line x1="482.31" y1="297.3" x2="482.31" y2="300.5" stroke="#2a2a2a" stroke-width="0.9"/>
<text x="482.31" y="309.10" font-size="6.0" stroke="#333" stroke-width="0.15" text-anchor="middle" textLength="7.00" lengthAdjust="spacingAndGlyphs" fill="#333">13</text>
<line x1="493.67999999999995" y1="297.3" x2="493.67999999999995" y2="300.5" stroke="#2a2a2a" stroke-width="0.9"/>
<text x="493.68" y="309.10" font-size="6.0" stroke="#333" stroke-width="0.15" text-anchor="middle" textLength="7.00" lengthAdjust="spacingAndGlyphs" fill="#333">14</text>
<line x1="505.04999999999995" y1="297.3" x2="505.04999999999995" y2="300.5" stroke="#2a2a2a" stroke-width="0.9"/>
<text x="505.05" y="309.10" font-size="6.0" stroke="#333" stroke-width="0.15" text-anchor="middle" textLength="7.00" lengthAdjust="spacingAndGlyphs" fill="#333">15</text>
<path d="M326.5 203 V297.3 H512.5" fill="none" stroke="#2a2a2a" stroke-width="1.1"/>
<text x="418.38" y="320.90" font-size="8.7" stroke="#222" stroke-width="0.15" text-anchor="middle" textLength="32.00" lengthAdjust="spacingAndGlyphs" fill="#222">Time (years)</text>
<text x="302.40" y="250.50" font-size="8.5" stroke="#222" stroke-width="0.15" text-anchor="middle" textLength="48.70" lengthAdjust="spacingAndGlyphs" fill="#222" transform="rotate(-90 302.40 250.50)">Survival probability</text>
<text x="326.20" y="331.30" font-size="5.5" stroke="#333" stroke-width="0.15" textLength="39.40" lengthAdjust="spacingAndGlyphs" fill="#333">Number at risk</text>
<line x1="323.0" y1="343.6" x2="326.5" y2="343.6" stroke="#2a2a2a" stroke-width="0.9"/>
<text x="321.10" y="345.60" font-size="5.7" stroke="#f2bd72" stroke-width="0.15" text-anchor="end" textLength="6.30" lengthAdjust="spacingAndGlyphs" fill="#f2bd72">All</text>
<text x="334.50" y="345.80" font-size="6.0" stroke="#333" stroke-width="0.15" text-anchor="middle" textLength="7.00" lengthAdjust="spacingAndGlyphs" fill="#333">81</text>
<text x="345.87" y="345.80" font-size="6.0" stroke="#333" stroke-width="0.15" text-anchor="middle" textLength="7.00" lengthAdjust="spacingAndGlyphs" fill="#333">55</text>
<text x="357.24" y="345.80" font-size="6.0" stroke="#333" stroke-width="0.15" text-anchor="middle" textLength="7.00" lengthAdjust="spacingAndGlyphs" fill="#333">48</text>
<text x="368.61" y="345.80" font-size="6.0" stroke="#333" stroke-width="0.15" text-anchor="middle" textLength="7.00" lengthAdjust="spacingAndGlyphs" fill="#333">40</text>
<text x="379.98" y="345.80" font-size="6.0" stroke="#333" stroke-width="0.15" text-anchor="middle" textLength="7.00" lengthAdjust="spacingAndGlyphs" fill="#333">30</text>
<text x="391.35" y="345.80" font-size="6.0" stroke="#333" stroke-width="0.15" text-anchor="middle" textLength="7.00" lengthAdjust="spacingAndGlyphs" fill="#333">23</text>
<text x="402.72" y="345.80" font-size="6.0" stroke="#333" stroke-width="0.15" text-anchor="middle" textLength="7.00" lengthAdjust="spacingAndGlyphs" fill="#333">18</text>
<text x="414.09" y="345.80" font-size="6.0" stroke="#333" stroke-width="0.15" text-anchor="middle" textLength="7.00" lengthAdjust="spacingAndGlyphs" fill="#333">10</text>
<text x="425.46" y="345.80" font-size="6.0" stroke="#333" stroke-width="0.15" text-anchor="middle" textLength="3.60" lengthAdjust="spacingAndGlyphs" fill="#333">6</text>
<text x="436.83" y="345.80" font-size="6.0" stroke="#333" stroke-width="0.15" text-anchor="middle" textLength="3.60" lengthAdjust="spacingAndGlyphs" fill="#333">3</text>
<text x="448.20" y="345.80" font-size="6.0" stroke="#333" stroke-width="0.15" text-anchor="middle" textLength="3.60" lengthAdjust="spacingAndGlyphs" fill="#333">3</text>
<text x="459.57" y="345.80" font-size="6.0" stroke="#333" stroke-width="0.15" text-anchor="middle" textLength="3.60" lengthAdjust="spacingAndGlyphs" fill="#333">2</text>
<text x="470.94" y="345.80" font-size="6.0" stroke="#333" stroke-width="0.15" text-anchor="middle" textLength="3.60" lengthAdjust="spacingAndGlyphs" fill="#333">1</text>
<text x="482.31" y="345.80" font-size="6.0" stroke="#333" stroke-width="0.15" text-anchor="middle" textLength="3.60" lengthAdjust="spacingAndGlyphs" fill="#333">1</text>
<text x="493.68" y="345.80" font-size="6.0" stroke="#333" stroke-width="0.15" text-anchor="middle" textLength="3.60" lengthAdjust="spacingAndGlyphs" fill="#333">1</text>
<text x="505.05" y="345.80" font-size="6.0" stroke="#333" stroke-width="0.15" text-anchor="middle" textLength="3.60" lengthAdjust="spacingAndGlyphs" fill="#333">0</text>
<line x1="334.5" y1="349.8" x2="334.5" y2="353.0" stroke="#2a2a2a" stroke-width="0.9"/>
<text x="334.50" y="361.60" font-size="6.0" stroke="#333" stroke-width="0.15" text-anchor="middle" textLength="3.50" lengthAdjust="spacingAndGlyphs" fill="#333">0</text>
<line x1="345.87" y1="349.8" x2="345.87" y2="353.0" stroke="#2a2a2a" stroke-width="0.9"/>
<text x="345.87" y="361.60" font-size="6.0" stroke="#333" stroke-width="0.15" text-anchor="middle" textLength="3.50" lengthAdjust="spacingAndGlyphs" fill="#333">1</text>
<line x1="357.24" y1="349.8" x2="357.24" y2="353.0" stroke="#2a2a2a" stroke-width="0.9"/>
<text x="357.24" y="361.60" font-size="6.0" stroke="#333" stroke-width="0.15" text-anchor="middle" textLength="3.50" lengthAdjust="spacingAndGlyphs" fill="#333">2</text>
<line x1="368.61" y1="349.8" x2="368.61" y2="353.0" stroke="#2a2a2a" stroke-width="0.9"/>
<text x="368.61" y="361.60" font-size="6.0" stroke="#333" stroke-width="0.15" text-anchor="middle" textLength="3.50" lengthAdjust="spacingAndGlyphs" fill="#333">3</text>
<line x1="379.98" y1="349.8" x2="379.98" y2="353.0" stroke="#2a2a2a" stroke-width="0.9"/>
<text x="379.98" y="361.60" font-size="6.0" stroke="#333" stroke-width="0.15" text-anchor="middle" textLength="3.50" lengthAdjust="spacingAndGlyphs" fill="#333">4</text>
<line x1="391.35" y1="349.8" x2="391.35" y2="353.0" stroke="#2a2a2a" stroke-width="0.9"/>
<text x="391.35" y="361.60" font-size="6.0" stroke="#333" stroke-width="0.15" text-anchor="middle" textLength="3.50" lengthAdjust="spacingAndGlyphs" fill="#333">5</text>
<line x1="402.72" y1="349.8" x2="402.72" y2="353.0" stroke="#2a2a2a" stroke-width="0.9"/>
<text x="402.72" y="361.60" font-size="6.0" stroke="#333" stroke-width="0.15" text-anchor="middle" textLength="3.50" lengthAdjust="spacingAndGlyphs" fill="#333">6</text>
<line x1="414.09" y1="349.8" x2="414.09" y2="353.0" stroke="#2a2a2a" stroke-width="0.9"/>
<text x="414.09" y="361.60" font-size="6.0" stroke="#333" stroke-width="0.15" text-anchor="middle" textLength="3.50" lengthAdjust="spacingAndGlyphs" fill="#333">7</text>
<line x1="425.46" y1="349.8" x2="425.46" y2="353.0" stroke="#2a2a2a" stroke-width="0.9"/>
<text x="425.46" y="361.60" font-size="6.0" stroke="#333" stroke-width="0.15" text-anchor="middle" textLength="3.50" lengthAdjust="spacingAndGlyphs" fill="#333">8</text>
<line x1="436.83" y1="349.8" x2="436.83" y2="353.0" stroke="#2a2a2a" stroke-width="0.9"/>
<text x="436.83" y="361.60" font-size="6.0" stroke="#333" stroke-width="0.15" text-anchor="middle" textLength="3.50" lengthAdjust="spacingAndGlyphs" fill="#333">9</text>
<line x1="448.2" y1="349.8" x2="448.2" y2="353.0" stroke="#2a2a2a" stroke-width="0.9"/>
<text x="448.20" y="361.60" font-size="6.0" stroke="#333" stroke-width="0.15" text-anchor="middle" textLength="7.00" lengthAdjust="spacingAndGlyphs" fill="#333">10</text>
<line x1="459.57" y1="349.8" x2="459.57" y2="353.0" stroke="#2a2a2a" stroke-width="0.9"/>
<text x="459.57" y="361.60" font-size="6.0" stroke="#333" stroke-width="0.15" text-anchor="middle" textLength="7.00" lengthAdjust="spacingAndGlyphs" fill="#333">11</text>
<line x1="470.94" y1="349.8" x2="470.94" y2="353.0" stroke="#2a2a2a" stroke-width="0.9"/>
<text x="470.94" y="361.60" font-size="6.0" stroke="#333" stroke-width="0.15" text-anchor="middle" textLength="7.00" lengthAdjust="spacingAndGlyphs" fill="#333">12</text>
<line x1="482.31" y1="349.8" x2="482.31" y2="353.0" stroke="#2a2a2a" stroke-width="0.9"/>
<text x="482.31" y="361.60" font-size="6.0" stroke="#333" stroke-width="0.15" text-anchor="middle" textLength="7.00" lengthAdjust="spacingAndGlyphs" fill="#333">13</text>
<line x1="493.67999999999995" y1="349.8" x2="493.67999999999995" y2="353.0" stroke="#2a2a2a" stroke-width="0.9"/>
<text x="493.68" y="361.60" font-size="6.0" stroke="#333" stroke-width="0.15" text-anchor="middle" textLength="7.00" lengthAdjust="spacingAndGlyphs" fill="#333">14</text>
<line x1="505.04999999999995" y1="349.8" x2="505.04999999999995" y2="353.0" stroke="#2a2a2a" stroke-width="0.9"/>
<text x="505.05" y="361.60" font-size="6.0" stroke="#333" stroke-width="0.15" text-anchor="middle" textLength="7.00" lengthAdjust="spacingAndGlyphs" fill="#333">15</text>
<path d="M326.5 337.3 V349.8 H512.5" fill="none" stroke="#2a2a2a" stroke-width="1.1"/>
<text x="418.38" y="373.30" font-size="8.7" stroke="#222" stroke-width="0.15" text-anchor="middle" textLength="32.00" lengthAdjust="spacingAndGlyphs" fill="#222">Time (years)</text>
<text x="308.80" y="343.55" font-size="8.4" stroke="#222" stroke-width="0.15" text-anchor="middle" textLength="15.70" lengthAdjust="spacingAndGlyphs" fill="#222" transform="rotate(-90 308.80 343.55)">Strata</text>
<path d="M78.50 404.30 L80.70 404.30 L80.70 411.00 L81.60 411.00 L81.60 421.00 L83.00 421.00 L83.00 429.50 L85.00 429.50 L85.00 433.00 L87.00 433.00 L87.00 436.80 L88.60 436.80 L88.60 440.60 L91.00 440.60 L91.00 444.20 L122.30 444.20 L122.30 447.90 L153.60 447.90 L153.60 459.40 L162.00 459.40" fill="none" stroke="#4a9c4a" stroke-width="0.95"/>
<line x1="105.5" y1="442.8" x2="105.5" y2="445.59999999999997" stroke="#4a9c4a" stroke-width="0.8"/>
<line x1="110" y1="442.8" x2="110" y2="445.59999999999997" stroke="#4a9c4a" stroke-width="0.8"/>
<line x1="125.6" y1="446.5" x2="125.6" y2="449.29999999999995" stroke="#4a9c4a" stroke-width="0.8"/>
<line x1="126.9" y1="446.5" x2="126.9" y2="449.29999999999995" stroke="#4a9c4a" stroke-width="0.8"/>
<line x1="131.2" y1="446.5" x2="131.2" y2="449.29999999999995" stroke="#4a9c4a" stroke-width="0.8"/>
<line x1="140" y1="446.5" x2="140" y2="449.29999999999995" stroke="#4a9c4a" stroke-width="0.8"/>
<line x1="142.5" y1="446.5" x2="142.5" y2="449.29999999999995" stroke="#4a9c4a" stroke-width="0.8"/>
<line x1="145" y1="446.5" x2="145" y2="449.29999999999995" stroke="#4a9c4a" stroke-width="0.8"/>
<line x1="147.5" y1="446.5" x2="147.5" y2="449.29999999999995" stroke="#4a9c4a" stroke-width="0.8"/>
<line x1="149.4" y1="446.5" x2="149.4" y2="449.29999999999995" stroke="#4a9c4a" stroke-width="0.8"/>
<path d="M78.50 404.30 L83.40 404.30 L83.40 426.60 L89.30 426.60 L89.30 448.30 L91.20 448.30 L91.20 459.50 L242.00 459.50" fill="none" stroke="#b8406a" stroke-width="0.95"/>
<line x1="120" y1="458.1" x2="120" y2="460.9" stroke="#b8406a" stroke-width="0.8"/>
<line x1="123" y1="458.1" x2="123" y2="460.9" stroke="#b8406a" stroke-width="0.8"/>
<line x1="207.6" y1="458.1" x2="207.6" y2="460.9" stroke="#b8406a" stroke-width="0.8"/>
<line x1="241.9" y1="458.1" x2="241.9" y2="460.9" stroke="#b8406a" stroke-width="0.8"/>
<path d="M78.90 404.30 L78.90 410.30 L85.40 410.30 L85.40 425.20 L104.40 425.20 L104.40 443.60 L136.30 443.60 L136.30 459.40 L200.20 459.40" fill="none" stroke="#3b5577" stroke-width="0.95"/>
<line x1="102.3" y1="423.8" x2="102.3" y2="426.59999999999997" stroke="#3b5577" stroke-width="0.8"/>
<line x1="103.5" y1="423.8" x2="103.5" y2="426.59999999999997" stroke="#3b5577" stroke-width="0.8"/>
<line x1="106.3" y1="442.20000000000005" x2="106.3" y2="445.0" stroke="#3b5577" stroke-width="0.8"/>
<line x1="112.5" y1="442.20000000000005" x2="112.5" y2="445.0" stroke="#3b5577" stroke-width="0.8"/>
<line x1="117.8" y1="442.20000000000005" x2="117.8" y2="445.0" stroke="#3b5577" stroke-width="0.8"/>
<line x1="118.8" y1="442.20000000000005" x2="118.8" y2="445.0" stroke="#3b5577" stroke-width="0.8"/>
<line x1="127" y1="442.20000000000005" x2="127" y2="445.0" stroke="#3b5577" stroke-width="0.8"/>
<line x1="159" y1="458.0" x2="159" y2="460.79999999999995" stroke="#3b5577" stroke-width="0.8"/>
<line x1="164" y1="458.0" x2="164" y2="460.79999999999995" stroke="#3b5577" stroke-width="0.8"/>
<line x1="171" y1="458.0" x2="171" y2="460.79999999999995" stroke="#3b5577" stroke-width="0.8"/>
<line x1="176" y1="458.0" x2="176" y2="460.79999999999995" stroke="#3b5577" stroke-width="0.8"/>
<line x1="181" y1="458.0" x2="181" y2="460.79999999999995" stroke="#3b5577" stroke-width="0.8"/>
<line x1="186" y1="458.0" x2="186" y2="460.79999999999995" stroke="#3b5577" stroke-width="0.8"/>
<line x1="190" y1="458.0" x2="190" y2="460.79999999999995" stroke="#3b5577" stroke-width="0.8"/>
<line x1="196" y1="458.0" x2="196" y2="460.79999999999995" stroke="#3b5577" stroke-width="0.8"/>
<line x1="200" y1="458.0" x2="200" y2="460.79999999999995" stroke="#3b5577" stroke-width="0.8"/>
<circle cx="149.5" cy="459.4" r="1.3" fill="#3b5577"/>
<line x1="66.5" y1="526.25" x2="70.0" y2="526.25" stroke="#2a2a2a" stroke-width="0.9"/>
<text x="63.50" y="528.25" font-size="5.8" stroke="#333" stroke-width="0.15" text-anchor="end" textLength="12.00" lengthAdjust="spacingAndGlyphs" fill="#333">0.00</text>
<line x1="66.5" y1="495.75" x2="70.0" y2="495.75" stroke="#2a2a2a" stroke-width="0.9"/>
<text x="63.50" y="497.75" font-size="5.8" stroke="#333" stroke-width="0.15" text-anchor="end" textLength="12.00" lengthAdjust="spacingAndGlyphs" fill="#333">0.25</text>
<line x1="66.5" y1="465.25" x2="70.0" y2="465.25" stroke="#2a2a2a" stroke-width="0.9"/>
<text x="63.50" y="467.25" font-size="5.8" stroke="#333" stroke-width="0.15" text-anchor="end" textLength="12.00" lengthAdjust="spacingAndGlyphs" fill="#333">0.50</text>
<line x1="66.5" y1="434.75" x2="70.0" y2="434.75" stroke="#2a2a2a" stroke-width="0.9"/>
<text x="63.50" y="436.75" font-size="5.8" stroke="#333" stroke-width="0.15" text-anchor="end" textLength="12.00" lengthAdjust="spacingAndGlyphs" fill="#333">0.75</text>
<line x1="66.5" y1="404.25" x2="70.0" y2="404.25" stroke="#2a2a2a" stroke-width="0.9"/>
<text x="63.50" y="406.25" font-size="5.8" stroke="#333" stroke-width="0.15" text-anchor="end" textLength="12.00" lengthAdjust="spacingAndGlyphs" fill="#333">1.00</text>
<line x1="78.5" y1="532" x2="78.5" y2="535.2" stroke="#2a2a2a" stroke-width="0.9"/>
<text x="78.50" y="543.80" font-size="6.0" stroke="#333" stroke-width="0.15" text-anchor="middle" textLength="3.50" lengthAdjust="spacingAndGlyphs" fill="#333">0</text>
<line x1="89.64" y1="532" x2="89.64" y2="535.2" stroke="#2a2a2a" stroke-width="0.9"/>
<text x="89.64" y="543.80" font-size="6.0" stroke="#333" stroke-width="0.15" text-anchor="middle" textLength="3.50" lengthAdjust="spacingAndGlyphs" fill="#333">1</text>
<line x1="100.78" y1="532" x2="100.78" y2="535.2" stroke="#2a2a2a" stroke-width="0.9"/>
<text x="100.78" y="543.80" font-size="6.0" stroke="#333" stroke-width="0.15" text-anchor="middle" textLength="3.50" lengthAdjust="spacingAndGlyphs" fill="#333">2</text>
<line x1="111.92" y1="532" x2="111.92" y2="535.2" stroke="#2a2a2a" stroke-width="0.9"/>
<text x="111.92" y="543.80" font-size="6.0" stroke="#333" stroke-width="0.15" text-anchor="middle" textLength="3.50" lengthAdjust="spacingAndGlyphs" fill="#333">3</text>
<line x1="123.06" y1="532" x2="123.06" y2="535.2" stroke="#2a2a2a" stroke-width="0.9"/>
<text x="123.06" y="543.80" font-size="6.0" stroke="#333" stroke-width="0.15" text-anchor="middle" textLength="3.50" lengthAdjust="spacingAndGlyphs" fill="#333">4</text>
<line x1="134.2" y1="532" x2="134.2" y2="535.2" stroke="#2a2a2a" stroke-width="0.9"/>
<text x="134.20" y="543.80" font-size="6.0" stroke="#333" stroke-width="0.15" text-anchor="middle" textLength="3.50" lengthAdjust="spacingAndGlyphs" fill="#333">5</text>
<line x1="145.34" y1="532" x2="145.34" y2="535.2" stroke="#2a2a2a" stroke-width="0.9"/>
<text x="145.34" y="543.80" font-size="6.0" stroke="#333" stroke-width="0.15" text-anchor="middle" textLength="3.50" lengthAdjust="spacingAndGlyphs" fill="#333">6</text>
<line x1="156.48000000000002" y1="532" x2="156.48000000000002" y2="535.2" stroke="#2a2a2a" stroke-width="0.9"/>
<text x="156.48" y="543.80" font-size="6.0" stroke="#333" stroke-width="0.15" text-anchor="middle" textLength="3.50" lengthAdjust="spacingAndGlyphs" fill="#333">7</text>
<line x1="167.62" y1="532" x2="167.62" y2="535.2" stroke="#2a2a2a" stroke-width="0.9"/>
<text x="167.62" y="543.80" font-size="6.0" stroke="#333" stroke-width="0.15" text-anchor="middle" textLength="3.50" lengthAdjust="spacingAndGlyphs" fill="#333">8</text>
<line x1="178.76" y1="532" x2="178.76" y2="535.2" stroke="#2a2a2a" stroke-width="0.9"/>
<text x="178.76" y="543.80" font-size="6.0" stroke="#333" stroke-width="0.15" text-anchor="middle" textLength="3.50" lengthAdjust="spacingAndGlyphs" fill="#333">9</text>
<line x1="189.9" y1="532" x2="189.9" y2="535.2" stroke="#2a2a2a" stroke-width="0.9"/>
<text x="189.90" y="543.80" font-size="6.0" stroke="#333" stroke-width="0.15" text-anchor="middle" textLength="7.00" lengthAdjust="spacingAndGlyphs" fill="#333">10</text>
<line x1="201.04000000000002" y1="532" x2="201.04000000000002" y2="535.2" stroke="#2a2a2a" stroke-width="0.9"/>
<text x="201.04" y="543.80" font-size="6.0" stroke="#333" stroke-width="0.15" text-anchor="middle" textLength="7.00" lengthAdjust="spacingAndGlyphs" fill="#333">11</text>
<line x1="212.18" y1="532" x2="212.18" y2="535.2" stroke="#2a2a2a" stroke-width="0.9"/>
<text x="212.18" y="543.80" font-size="6.0" stroke="#333" stroke-width="0.15" text-anchor="middle" textLength="7.00" lengthAdjust="spacingAndGlyphs" fill="#333">12</text>
<line x1="223.32" y1="532" x2="223.32" y2="535.2" stroke="#2a2a2a" stroke-width="0.9"/>
<text x="223.32" y="543.80" font-size="6.0" stroke="#333" stroke-width="0.15" text-anchor="middle" textLength="7.00" lengthAdjust="spacingAndGlyphs" fill="#333">13</text>
<line x1="234.46" y1="532" x2="234.46" y2="535.2" stroke="#2a2a2a" stroke-width="0.9"/>
<text x="234.46" y="543.80" font-size="6.0" stroke="#333" stroke-width="0.15" text-anchor="middle" textLength="7.00" lengthAdjust="spacingAndGlyphs" fill="#333">14</text>
<line x1="245.60000000000002" y1="532" x2="245.60000000000002" y2="535.2" stroke="#2a2a2a" stroke-width="0.9"/>
<text x="245.60" y="543.80" font-size="6.0" stroke="#333" stroke-width="0.15" text-anchor="middle" textLength="7.00" lengthAdjust="spacingAndGlyphs" fill="#333">15</text>
<path d="M70.0 400.5 V532 H253.7" fill="none" stroke="#2a2a2a" stroke-width="1.1"/>
<text x="162.05" y="555.60" font-size="8.7" stroke="#222" stroke-width="0.15" text-anchor="middle" textLength="32.00" lengthAdjust="spacingAndGlyphs" fill="#222">Time (years)</text>
<text x="46.60" y="466.50" font-size="8.5" stroke="#222" stroke-width="0.15" text-anchor="middle" textLength="48.70" lengthAdjust="spacingAndGlyphs" fill="#222" transform="rotate(-90 46.60 466.50)">Survival probability</text>
<text x="69.70" y="566.30" font-size="5.5" stroke="#333" stroke-width="0.15" textLength="39.40" lengthAdjust="spacingAndGlyphs" fill="#333">Number at risk</text>
<line x1="66.5" y1="578.3" x2="70.0" y2="578.3" stroke="#2a2a2a" stroke-width="0.9"/>
<text x="64.60" y="580.30" font-size="5.7" stroke="#66bd66" stroke-width="0.15" text-anchor="end" textLength="38.70" lengthAdjust="spacingAndGlyphs" fill="#66bd66">Allogenic SCT</text>
<text x="78.50" y="580.50" font-size="6.0" stroke="#333" stroke-width="0.15" text-anchor="middle" textLength="7.00" lengthAdjust="spacingAndGlyphs" fill="#333">44</text>
<text x="89.64" y="580.50" font-size="6.0" stroke="#333" stroke-width="0.15" text-anchor="middle" textLength="7.00" lengthAdjust="spacingAndGlyphs" fill="#333">29</text>
<text x="100.78" y="580.50" font-size="6.0" stroke="#333" stroke-width="0.15" text-anchor="middle" textLength="7.00" lengthAdjust="spacingAndGlyphs" fill="#333">25</text>
<text x="111.92" y="580.50" font-size="6.0" stroke="#333" stroke-width="0.15" text-anchor="middle" textLength="7.00" lengthAdjust="spacingAndGlyphs" fill="#333">23</text>
<text x="123.06" y="580.50" font-size="6.0" stroke="#333" stroke-width="0.15" text-anchor="middle" textLength="7.00" lengthAdjust="spacingAndGlyphs" fill="#333">17</text>
<text x="134.20" y="580.50" font-size="6.0" stroke="#333" stroke-width="0.15" text-anchor="middle" textLength="7.00" lengthAdjust="spacingAndGlyphs" fill="#333">12</text>
<text x="145.34" y="580.50" font-size="6.0" stroke="#333" stroke-width="0.15" text-anchor="middle" textLength="3.60" lengthAdjust="spacingAndGlyphs" fill="#333">9</text>
<text x="156.48" y="580.50" font-size="6.0" stroke="#333" stroke-width="0.15" text-anchor="middle" textLength="3.60" lengthAdjust="spacingAndGlyphs" fill="#333">6</text>
<text x="167.62" y="580.50" font-size="6.0" stroke="#333" stroke-width="0.15" text-anchor="middle" textLength="3.60" lengthAdjust="spacingAndGlyphs" fill="#333">3</text>
<text x="178.76" y="580.50" font-size="6.0" stroke="#333" stroke-width="0.15" text-anchor="middle" textLength="3.60" lengthAdjust="spacingAndGlyphs" fill="#333">0</text>
<text x="189.90" y="580.50" font-size="6.0" stroke="#333" stroke-width="0.15" text-anchor="middle" textLength="3.60" lengthAdjust="spacingAndGlyphs" fill="#333">0</text>
<text x="201.04" y="580.50" font-size="6.0" stroke="#333" stroke-width="0.15" text-anchor="middle" textLength="3.60" lengthAdjust="spacingAndGlyphs" fill="#333">0</text>
<text x="212.18" y="580.50" font-size="6.0" stroke="#333" stroke-width="0.15" text-anchor="middle" textLength="3.60" lengthAdjust="spacingAndGlyphs" fill="#333">0</text>
<text x="223.32" y="580.50" font-size="6.0" stroke="#333" stroke-width="0.15" text-anchor="middle" textLength="3.60" lengthAdjust="spacingAndGlyphs" fill="#333">0</text>
<text x="234.46" y="580.50" font-size="6.0" stroke="#333" stroke-width="0.15" text-anchor="middle" textLength="3.60" lengthAdjust="spacingAndGlyphs" fill="#333">0</text>
<text x="245.60" y="580.50" font-size="6.0" stroke="#333" stroke-width="0.15" text-anchor="middle" textLength="3.60" lengthAdjust="spacingAndGlyphs" fill="#333">0</text>
<line x1="66.5" y1="588.3" x2="70.0" y2="588.3" stroke="#2a2a2a" stroke-width="0.9"/>
<text x="64.60" y="590.30" font-size="5.7" stroke="#d4437a" stroke-width="0.15" text-anchor="end" textLength="44.70" lengthAdjust="spacingAndGlyphs" fill="#d4437a">Autologous SCT</text>
<text x="78.50" y="590.50" font-size="6.0" stroke="#333" stroke-width="0.15" text-anchor="middle" textLength="7.00" lengthAdjust="spacingAndGlyphs" fill="#333">11</text>
<text x="89.64" y="590.50" font-size="6.0" stroke="#333" stroke-width="0.15" text-anchor="middle" textLength="3.60" lengthAdjust="spacingAndGlyphs" fill="#333">9</text>
<text x="100.78" y="590.50" font-size="6.0" stroke="#333" stroke-width="0.15" text-anchor="middle" textLength="3.60" lengthAdjust="spacingAndGlyphs" fill="#333">6</text>
<text x="111.92" y="590.50" font-size="6.0" stroke="#333" stroke-width="0.15" text-anchor="middle" textLength="3.60" lengthAdjust="spacingAndGlyphs" fill="#333">6</text>
<text x="123.06" y="590.50" font-size="6.0" stroke="#333" stroke-width="0.15" text-anchor="middle" textLength="3.60" lengthAdjust="spacingAndGlyphs" fill="#333">5</text>
<text x="134.20" y="590.50" font-size="6.0" stroke="#333" stroke-width="0.15" text-anchor="middle" textLength="3.60" lengthAdjust="spacingAndGlyphs" fill="#333">4</text>
<text x="145.34" y="590.50" font-size="6.0" stroke="#333" stroke-width="0.15" text-anchor="middle" textLength="3.60" lengthAdjust="spacingAndGlyphs" fill="#333">4</text>
<text x="156.48" y="590.50" font-size="6.0" stroke="#333" stroke-width="0.15" text-anchor="middle" textLength="3.60" lengthAdjust="spacingAndGlyphs" fill="#333">2</text>
<text x="167.62" y="590.50" font-size="6.0" stroke="#333" stroke-width="0.15" text-anchor="middle" textLength="3.60" lengthAdjust="spacingAndGlyphs" fill="#333">2</text>
<text x="178.76" y="590.50" font-size="6.0" stroke="#333" stroke-width="0.15" text-anchor="middle" textLength="3.60" lengthAdjust="spacingAndGlyphs" fill="#333">2</text>
<text x="189.90" y="590.50" font-size="6.0" stroke="#333" stroke-width="0.15" text-anchor="middle" textLength="3.60" lengthAdjust="spacingAndGlyphs" fill="#333">2</text>
<text x="201.04" y="590.50" font-size="6.0" stroke="#333" stroke-width="0.15" text-anchor="middle" textLength="3.60" lengthAdjust="spacingAndGlyphs" fill="#333">2</text>
<text x="212.18" y="590.50" font-size="6.0" stroke="#333" stroke-width="0.15" text-anchor="middle" textLength="3.60" lengthAdjust="spacingAndGlyphs" fill="#333">1</text>
<text x="223.32" y="590.50" font-size="6.0" stroke="#333" stroke-width="0.15" text-anchor="middle" textLength="3.60" lengthAdjust="spacingAndGlyphs" fill="#333">1</text>
<text x="234.46" y="590.50" font-size="6.0" stroke="#333" stroke-width="0.15" text-anchor="middle" textLength="3.60" lengthAdjust="spacingAndGlyphs" fill="#333">1</text>
<text x="245.60" y="590.50" font-size="6.0" stroke="#333" stroke-width="0.15" text-anchor="middle" textLength="3.60" lengthAdjust="spacingAndGlyphs" fill="#333">0</text>
<line x1="66.5" y1="598.3" x2="70.0" y2="598.3" stroke="#2a2a2a" stroke-width="0.9"/>
<text x="64.60" y="600.30" font-size="5.7" stroke="#55709a" stroke-width="0.15" text-anchor="end" textLength="36.00" lengthAdjust="spacingAndGlyphs" fill="#55709a">No transplant</text>
<text x="78.50" y="600.50" font-size="6.0" stroke="#333" stroke-width="0.15" text-anchor="middle" textLength="7.00" lengthAdjust="spacingAndGlyphs" fill="#333">19</text>
<text x="89.64" y="600.50" font-size="6.0" stroke="#333" stroke-width="0.15" text-anchor="middle" textLength="7.00" lengthAdjust="spacingAndGlyphs" fill="#333">13</text>
<text x="100.78" y="600.50" font-size="6.0" stroke="#333" stroke-width="0.15" text-anchor="middle" textLength="7.00" lengthAdjust="spacingAndGlyphs" fill="#333">13</text>
<text x="111.92" y="600.50" font-size="6.0" stroke="#333" stroke-width="0.15" text-anchor="middle" textLength="3.60" lengthAdjust="spacingAndGlyphs" fill="#333">8</text>
<text x="123.06" y="600.50" font-size="6.0" stroke="#333" stroke-width="0.15" text-anchor="middle" textLength="3.60" lengthAdjust="spacingAndGlyphs" fill="#333">6</text>
<text x="134.20" y="600.50" font-size="6.0" stroke="#333" stroke-width="0.15" text-anchor="middle" textLength="3.60" lengthAdjust="spacingAndGlyphs" fill="#333">5</text>
<text x="145.34" y="600.50" font-size="6.0" stroke="#333" stroke-width="0.15" text-anchor="middle" textLength="3.60" lengthAdjust="spacingAndGlyphs" fill="#333">4</text>
<text x="156.48" y="600.50" font-size="6.0" stroke="#333" stroke-width="0.15" text-anchor="middle" textLength="3.60" lengthAdjust="spacingAndGlyphs" fill="#333">2</text>
<text x="167.62" y="600.50" font-size="6.0" stroke="#333" stroke-width="0.15" text-anchor="middle" textLength="3.60" lengthAdjust="spacingAndGlyphs" fill="#333">1</text>
<text x="178.76" y="600.50" font-size="6.0" stroke="#333" stroke-width="0.15" text-anchor="middle" textLength="3.60" lengthAdjust="spacingAndGlyphs" fill="#333">1</text>
<text x="189.90" y="600.50" font-size="6.0" stroke="#333" stroke-width="0.15" text-anchor="middle" textLength="3.60" lengthAdjust="spacingAndGlyphs" fill="#333">1</text>
<text x="201.04" y="600.50" font-size="6.0" stroke="#333" stroke-width="0.15" text-anchor="middle" textLength="3.60" lengthAdjust="spacingAndGlyphs" fill="#333">0</text>
<text x="212.18" y="600.50" font-size="6.0" stroke="#333" stroke-width="0.15" text-anchor="middle" textLength="3.60" lengthAdjust="spacingAndGlyphs" fill="#333">0</text>
<text x="223.32" y="600.50" font-size="6.0" stroke="#333" stroke-width="0.15" text-anchor="middle" textLength="3.60" lengthAdjust="spacingAndGlyphs" fill="#333">0</text>
<text x="234.46" y="600.50" font-size="6.0" stroke="#333" stroke-width="0.15" text-anchor="middle" textLength="3.60" lengthAdjust="spacingAndGlyphs" fill="#333">0</text>
<text x="245.60" y="600.50" font-size="6.0" stroke="#333" stroke-width="0.15" text-anchor="middle" textLength="3.60" lengthAdjust="spacingAndGlyphs" fill="#333">0</text>
<line x1="78.5" y1="604.8" x2="78.5" y2="608.0" stroke="#2a2a2a" stroke-width="0.9"/>
<text x="78.50" y="616.60" font-size="6.0" stroke="#333" stroke-width="0.15" text-anchor="middle" textLength="3.50" lengthAdjust="spacingAndGlyphs" fill="#333">0</text>
<line x1="89.64" y1="604.8" x2="89.64" y2="608.0" stroke="#2a2a2a" stroke-width="0.9"/>
<text x="89.64" y="616.60" font-size="6.0" stroke="#333" stroke-width="0.15" text-anchor="middle" textLength="3.50" lengthAdjust="spacingAndGlyphs" fill="#333">1</text>
<line x1="100.78" y1="604.8" x2="100.78" y2="608.0" stroke="#2a2a2a" stroke-width="0.9"/>
<text x="100.78" y="616.60" font-size="6.0" stroke="#333" stroke-width="0.15" text-anchor="middle" textLength="3.50" lengthAdjust="spacingAndGlyphs" fill="#333">2</text>
<line x1="111.92" y1="604.8" x2="111.92" y2="608.0" stroke="#2a2a2a" stroke-width="0.9"/>
<text x="111.92" y="616.60" font-size="6.0" stroke="#333" stroke-width="0.15" text-anchor="middle" textLength="3.50" lengthAdjust="spacingAndGlyphs" fill="#333">3</text>
<line x1="123.06" y1="604.8" x2="123.06" y2="608.0" stroke="#2a2a2a" stroke-width="0.9"/>
<text x="123.06" y="616.60" font-size="6.0" stroke="#333" stroke-width="0.15" text-anchor="middle" textLength="3.50" lengthAdjust="spacingAndGlyphs" fill="#333">4</text>
<line x1="134.2" y1="604.8" x2="134.2" y2="608.0" stroke="#2a2a2a" stroke-width="0.9"/>
<text x="134.20" y="616.60" font-size="6.0" stroke="#333" stroke-width="0.15" text-anchor="middle" textLength="3.50" lengthAdjust="spacingAndGlyphs" fill="#333">5</text>
<line x1="145.34" y1="604.8" x2="145.34" y2="608.0" stroke="#2a2a2a" stroke-width="0.9"/>
<text x="145.34" y="616.60" font-size="6.0" stroke="#333" stroke-width="0.15" text-anchor="middle" textLength="3.50" lengthAdjust="spacingAndGlyphs" fill="#333">6</text>
<line x1="156.48000000000002" y1="604.8" x2="156.48000000000002" y2="608.0" stroke="#2a2a2a" stroke-width="0.9"/>
<text x="156.48" y="616.60" font-size="6.0" stroke="#333" stroke-width="0.15" text-anchor="middle" textLength="3.50" lengthAdjust="spacingAndGlyphs" fill="#333">7</text>
<line x1="167.62" y1="604.8" x2="167.62" y2="608.0" stroke="#2a2a2a" stroke-width="0.9"/>
<text x="167.62" y="616.60" font-size="6.0" stroke="#333" stroke-width="0.15" text-anchor="middle" textLength="3.50" lengthAdjust="spacingAndGlyphs" fill="#333">8</text>
<line x1="178.76" y1="604.8" x2="178.76" y2="608.0" stroke="#2a2a2a" stroke-width="0.9"/>
<text x="178.76" y="616.60" font-size="6.0" stroke="#333" stroke-width="0.15" text-anchor="middle" textLength="3.50" lengthAdjust="spacingAndGlyphs" fill="#333">9</text>
<line x1="189.9" y1="604.8" x2="189.9" y2="608.0" stroke="#2a2a2a" stroke-width="0.9"/>
<text x="189.90" y="616.60" font-size="6.0" stroke="#333" stroke-width="0.15" text-anchor="middle" textLength="7.00" lengthAdjust="spacingAndGlyphs" fill="#333">10</text>
<line x1="201.04000000000002" y1="604.8" x2="201.04000000000002" y2="608.0" stroke="#2a2a2a" stroke-width="0.9"/>
<text x="201.04" y="616.60" font-size="6.0" stroke="#333" stroke-width="0.15" text-anchor="middle" textLength="7.00" lengthAdjust="spacingAndGlyphs" fill="#333">11</text>
<line x1="212.18" y1="604.8" x2="212.18" y2="608.0" stroke="#2a2a2a" stroke-width="0.9"/>
<text x="212.18" y="616.60" font-size="6.0" stroke="#333" stroke-width="0.15" text-anchor="middle" textLength="7.00" lengthAdjust="spacingAndGlyphs" fill="#333">12</text>
<line x1="223.32" y1="604.8" x2="223.32" y2="608.0" stroke="#2a2a2a" stroke-width="0.9"/>
<text x="223.32" y="616.60" font-size="6.0" stroke="#333" stroke-width="0.15" text-anchor="middle" textLength="7.00" lengthAdjust="spacingAndGlyphs" fill="#333">13</text>
<line x1="234.46" y1="604.8" x2="234.46" y2="608.0" stroke="#2a2a2a" stroke-width="0.9"/>
<text x="234.46" y="616.60" font-size="6.0" stroke="#333" stroke-width="0.15" text-anchor="middle" textLength="7.00" lengthAdjust="spacingAndGlyphs" fill="#333">14</text>
<line x1="245.60000000000002" y1="604.8" x2="245.60000000000002" y2="608.0" stroke="#2a2a2a" stroke-width="0.9"/>
<text x="245.60" y="616.60" font-size="6.0" stroke="#333" stroke-width="0.15" text-anchor="middle" textLength="7.00" lengthAdjust="spacingAndGlyphs" fill="#333">15</text>
<path d="M70.0 570.5 V604.8 H253.7" fill="none" stroke="#2a2a2a" stroke-width="1.1"/>
<text x="162.05" y="628.30" font-size="8.7" stroke="#222" stroke-width="0.15" text-anchor="middle" textLength="32.00" lengthAdjust="spacingAndGlyphs" fill="#222">Time (years)</text>
<text x="14.00" y="587.65" font-size="8.4" stroke="#222" stroke-width="0.15" text-anchor="middle" textLength="15.60" lengthAdjust="spacingAndGlyphs" fill="#222" transform="rotate(-90 14.00 587.65)">Strata</text>
<path d="M334.50 405.80 L341.40 405.80 L341.40 409.00 L344.20 409.00 L344.20 411.50 L347.00 411.50 L347.00 412.80 L409.40 412.80 L409.40 429.50 L433.00 429.50" fill="none" stroke="#5aa950" stroke-width="1.1"/>
<line x1="349" y1="411.3" x2="349" y2="414.09999999999997" stroke="#3f8a3f" stroke-width="0.8"/>
<line x1="352" y1="411.3" x2="352" y2="414.09999999999997" stroke="#3f8a3f" stroke-width="0.8"/>
<line x1="358" y1="411.3" x2="358" y2="414.09999999999997" stroke="#3f8a3f" stroke-width="0.8"/>
<line x1="362" y1="411.3" x2="362" y2="414.09999999999997" stroke="#3f8a3f" stroke-width="0.8"/>
<line x1="366" y1="411.3" x2="366" y2="414.09999999999997" stroke="#3f8a3f" stroke-width="0.8"/>
<line x1="372" y1="411.3" x2="372" y2="414.09999999999997" stroke="#3f8a3f" stroke-width="0.8"/>
<line x1="375" y1="411.3" x2="375" y2="414.09999999999997" stroke="#3f8a3f" stroke-width="0.8"/>
<line x1="378" y1="411.3" x2="378" y2="414.09999999999997" stroke="#3f8a3f" stroke-width="0.8"/>
<line x1="381" y1="411.3" x2="381" y2="414.09999999999997" stroke="#3f8a3f" stroke-width="0.8"/>
<line x1="383" y1="411.3" x2="383" y2="414.09999999999997" stroke="#3f8a3f" stroke-width="0.8"/>
<line x1="385" y1="411.3" x2="385" y2="414.09999999999997" stroke="#3f8a3f" stroke-width="0.8"/>
<line x1="387" y1="411.3" x2="387" y2="414.09999999999997" stroke="#3f8a3f" stroke-width="0.8"/>
<line x1="391" y1="411.3" x2="391" y2="414.09999999999997" stroke="#3f8a3f" stroke-width="0.8"/>
<line x1="395" y1="411.3" x2="395" y2="414.09999999999997" stroke="#3f8a3f" stroke-width="0.8"/>
<line x1="399" y1="411.3" x2="399" y2="414.09999999999997" stroke="#3f8a3f" stroke-width="0.8"/>
<line x1="401" y1="411.3" x2="401" y2="414.09999999999997" stroke="#3f8a3f" stroke-width="0.8"/>
<line x1="405" y1="411.3" x2="405" y2="414.09999999999997" stroke="#3f8a3f" stroke-width="0.8"/>
<line x1="415" y1="428.1" x2="415" y2="430.9" stroke="#3f8a3f" stroke-width="0.8"/>
<line x1="418.5" y1="428.1" x2="418.5" y2="430.9" stroke="#3f8a3f" stroke-width="0.8"/>
<line x1="421" y1="428.1" x2="421" y2="430.9" stroke="#3f8a3f" stroke-width="0.8"/>
<line x1="423" y1="428.1" x2="423" y2="430.9" stroke="#3f8a3f" stroke-width="0.8"/>
<line x1="433" y1="428.1" x2="433" y2="430.9" stroke="#3f8a3f" stroke-width="0.8"/>
<line x1="334.5" y1="404.40000000000003" x2="334.5" y2="407.2" stroke="#3f8a3f" stroke-width="0.8"/>
<line x1="336.5" y1="404.40000000000003" x2="336.5" y2="407.2" stroke="#3f8a3f" stroke-width="0.8"/>
<line x1="338.5" y1="404.40000000000003" x2="338.5" y2="407.2" stroke="#3f8a3f" stroke-width="0.8"/>
<line x1="340" y1="404.40000000000003" x2="340" y2="407.2" stroke="#3f8a3f" stroke-width="0.8"/>
<path d="M334.50 405.80 L339.00 405.80 L339.00 416.90 L496.20 416.90" fill="none" stroke="#d4557a" stroke-width="1.1"/>
<line x1="341" y1="415.5" x2="341" y2="418.29999999999995" stroke="#b43a60" stroke-width="0.8"/>
<line x1="343" y1="415.5" x2="343" y2="418.29999999999995" stroke="#b43a60" stroke-width="0.8"/>
<line x1="346" y1="415.5" x2="346" y2="418.29999999999995" stroke="#b43a60" stroke-width="0.8"/>
<line x1="403.8" y1="415.5" x2="403.8" y2="418.29999999999995" stroke="#b43a60" stroke-width="0.8"/>
<line x1="405" y1="415.5" x2="405" y2="418.29999999999995" stroke="#b43a60" stroke-width="0.8"/>
<line x1="462.5" y1="415.5" x2="462.5" y2="418.29999999999995" stroke="#b43a60" stroke-width="0.8"/>
<line x1="496.2" y1="415.5" x2="496.2" y2="418.29999999999995" stroke="#b43a60" stroke-width="0.8"/>
<path d="M334.50 405.80 L341.20 405.80 L341.20 421.00 L455.30 421.00" fill="none" stroke="#7b9cc0" stroke-width="1.1"/>
<line x1="343" y1="419.6" x2="343" y2="422.4" stroke="#4f6f95" stroke-width="0.8"/>
<line x1="357" y1="419.6" x2="357" y2="422.4" stroke="#4f6f95" stroke-width="0.8"/>
<line x1="359" y1="419.6" x2="359" y2="422.4" stroke="#4f6f95" stroke-width="0.8"/>
<line x1="361" y1="419.6" x2="361" y2="422.4" stroke="#4f6f95" stroke-width="0.8"/>
<line x1="373" y1="419.6" x2="373" y2="422.4" stroke="#4f6f95" stroke-width="0.8"/>
<line x1="391.3" y1="419.6" x2="391.3" y2="422.4" stroke="#4f6f95" stroke-width="0.8"/>
<line x1="405" y1="419.6" x2="405" y2="422.4" stroke="#4f6f95" stroke-width="0.8"/>
<line x1="416.4" y1="419.6" x2="416.4" y2="422.4" stroke="#4f6f95" stroke-width="0.8"/>
<line x1="455.3" y1="419.6" x2="455.3" y2="422.4" stroke="#4f6f95" stroke-width="0.8"/>
<line x1="322.7" y1="526.25" x2="326.2" y2="526.25" stroke="#2a2a2a" stroke-width="0.9"/>
<text x="319.70" y="528.25" font-size="5.8" stroke="#333" stroke-width="0.15" text-anchor="end" textLength="12.00" lengthAdjust="spacingAndGlyphs" fill="#333">0.00</text>
<line x1="322.7" y1="496.0" x2="326.2" y2="496.0" stroke="#2a2a2a" stroke-width="0.9"/>
<text x="319.70" y="498.00" font-size="5.8" stroke="#333" stroke-width="0.15" text-anchor="end" textLength="12.00" lengthAdjust="spacingAndGlyphs" fill="#333">0.25</text>
<line x1="322.7" y1="465.75" x2="326.2" y2="465.75" stroke="#2a2a2a" stroke-width="0.9"/>
<text x="319.70" y="467.75" font-size="5.8" stroke="#333" stroke-width="0.15" text-anchor="end" textLength="12.00" lengthAdjust="spacingAndGlyphs" fill="#333">0.50</text>
<line x1="322.7" y1="435.5" x2="326.2" y2="435.5" stroke="#2a2a2a" stroke-width="0.9"/>
<text x="319.70" y="437.50" font-size="5.8" stroke="#333" stroke-width="0.15" text-anchor="end" textLength="12.00" lengthAdjust="spacingAndGlyphs" fill="#333">0.75</text>
<line x1="322.7" y1="405.25" x2="326.2" y2="405.25" stroke="#2a2a2a" stroke-width="0.9"/>
<text x="319.70" y="407.25" font-size="5.8" stroke="#333" stroke-width="0.15" text-anchor="end" textLength="12.00" lengthAdjust="spacingAndGlyphs" fill="#333">1.00</text>
<line x1="334.5" y1="532" x2="334.5" y2="535.2" stroke="#2a2a2a" stroke-width="0.9"/>
<text x="334.50" y="543.80" font-size="6.0" stroke="#333" stroke-width="0.15" text-anchor="middle" textLength="3.50" lengthAdjust="spacingAndGlyphs" fill="#333">0</text>
<line x1="345.52" y1="532" x2="345.52" y2="535.2" stroke="#2a2a2a" stroke-width="0.9"/>
<text x="345.52" y="543.80" font-size="6.0" stroke="#333" stroke-width="0.15" text-anchor="middle" textLength="3.50" lengthAdjust="spacingAndGlyphs" fill="#333">1</text>
<line x1="356.54" y1="532" x2="356.54" y2="535.2" stroke="#2a2a2a" stroke-width="0.9"/>
<text x="356.54" y="543.80" font-size="6.0" stroke="#333" stroke-width="0.15" text-anchor="middle" textLength="3.50" lengthAdjust="spacingAndGlyphs" fill="#333">2</text>
<line x1="367.56" y1="532" x2="367.56" y2="535.2" stroke="#2a2a2a" stroke-width="0.9"/>
<text x="367.56" y="543.80" font-size="6.0" stroke="#333" stroke-width="0.15" text-anchor="middle" textLength="3.50" lengthAdjust="spacingAndGlyphs" fill="#333">3</text>
<line x1="378.58" y1="532" x2="378.58" y2="535.2" stroke="#2a2a2a" stroke-width="0.9"/>
<text x="378.58" y="543.80" font-size="6.0" stroke="#333" stroke-width="0.15" text-anchor="middle" textLength="3.50" lengthAdjust="spacingAndGlyphs" fill="#333">4</text>
<line x1="389.6" y1="532" x2="389.6" y2="535.2" stroke="#2a2a2a" stroke-width="0.9"/>
<text x="389.60" y="543.80" font-size="6.0" stroke="#333" stroke-width="0.15" text-anchor="middle" textLength="3.50" lengthAdjust="spacingAndGlyphs" fill="#333">5</text>
<line x1="400.62" y1="532" x2="400.62" y2="535.2" stroke="#2a2a2a" stroke-width="0.9"/>
<text x="400.62" y="543.80" font-size="6.0" stroke="#333" stroke-width="0.15" text-anchor="middle" textLength="3.50" lengthAdjust="spacingAndGlyphs" fill="#333">6</text>
<line x1="411.64" y1="532" x2="411.64" y2="535.2" stroke="#2a2a2a" stroke-width="0.9"/>
<text x="411.64" y="543.80" font-size="6.0" stroke="#333" stroke-width="0.15" text-anchor="middle" textLength="3.50" lengthAdjust="spacingAndGlyphs" fill="#333">7</text>
<line x1="422.65999999999997" y1="532" x2="422.65999999999997" y2="535.2" stroke="#2a2a2a" stroke-width="0.9"/>
<text x="422.66" y="543.80" font-size="6.0" stroke="#333" stroke-width="0.15" text-anchor="middle" textLength="3.50" lengthAdjust="spacingAndGlyphs" fill="#333">8</text>
<line x1="433.68" y1="532" x2="433.68" y2="535.2" stroke="#2a2a2a" stroke-width="0.9"/>
<text x="433.68" y="543.80" font-size="6.0" stroke="#333" stroke-width="0.15" text-anchor="middle" textLength="3.50" lengthAdjust="spacingAndGlyphs" fill="#333">9</text>
<line x1="444.7" y1="532" x2="444.7" y2="535.2" stroke="#2a2a2a" stroke-width="0.9"/>
<text x="444.70" y="543.80" font-size="6.0" stroke="#333" stroke-width="0.15" text-anchor="middle" textLength="7.00" lengthAdjust="spacingAndGlyphs" fill="#333">10</text>
<line x1="455.72" y1="532" x2="455.72" y2="535.2" stroke="#2a2a2a" stroke-width="0.9"/>
<text x="455.72" y="543.80" font-size="6.0" stroke="#333" stroke-width="0.15" text-anchor="middle" textLength="7.00" lengthAdjust="spacingAndGlyphs" fill="#333">11</text>
<line x1="466.74" y1="532" x2="466.74" y2="535.2" stroke="#2a2a2a" stroke-width="0.9"/>
<text x="466.74" y="543.80" font-size="6.0" stroke="#333" stroke-width="0.15" text-anchor="middle" textLength="7.00" lengthAdjust="spacingAndGlyphs" fill="#333">12</text>
<line x1="477.76" y1="532" x2="477.76" y2="535.2" stroke="#2a2a2a" stroke-width="0.9"/>
<text x="477.76" y="543.80" font-size="6.0" stroke="#333" stroke-width="0.15" text-anchor="middle" textLength="7.00" lengthAdjust="spacingAndGlyphs" fill="#333">13</text>
<line x1="488.78" y1="532" x2="488.78" y2="535.2" stroke="#2a2a2a" stroke-width="0.9"/>
<text x="488.78" y="543.80" font-size="6.0" stroke="#333" stroke-width="0.15" text-anchor="middle" textLength="7.00" lengthAdjust="spacingAndGlyphs" fill="#333">14</text>
<line x1="499.79999999999995" y1="532" x2="499.79999999999995" y2="535.2" stroke="#2a2a2a" stroke-width="0.9"/>
<text x="499.80" y="543.80" font-size="6.0" stroke="#333" stroke-width="0.15" text-anchor="middle" textLength="7.00" lengthAdjust="spacingAndGlyphs" fill="#333">15</text>
<path d="M326.2 402 V532 H508.2" fill="none" stroke="#2a2a2a" stroke-width="1.1"/>
<text x="417.15" y="555.60" font-size="8.7" stroke="#222" stroke-width="0.15" text-anchor="middle" textLength="32.00" lengthAdjust="spacingAndGlyphs" fill="#222">Time (years)</text>
<text x="302.70" y="467.10" font-size="8.5" stroke="#222" stroke-width="0.15" text-anchor="middle" textLength="48.70" lengthAdjust="spacingAndGlyphs" fill="#222" transform="rotate(-90 302.70 467.10)">Survival probability</text>
<text x="325.90" y="566.30" font-size="5.5" stroke="#333" stroke-width="0.15" textLength="39.40" lengthAdjust="spacingAndGlyphs" fill="#333">Number at risk</text>
<line x1="322.7" y1="578.3" x2="326.2" y2="578.3" stroke="#2a2a2a" stroke-width="0.9"/>
<text x="320.80" y="580.30" font-size="5.7" stroke="#66bd66" stroke-width="0.15" text-anchor="end" textLength="38.70" lengthAdjust="spacingAndGlyphs" fill="#66bd66">Allogenic SCT</text>
<text x="334.50" y="580.50" font-size="6.0" stroke="#333" stroke-width="0.15" text-anchor="middle" textLength="7.00" lengthAdjust="spacingAndGlyphs" fill="#333">44</text>
<text x="345.52" y="580.50" font-size="6.0" stroke="#333" stroke-width="0.15" text-anchor="middle" textLength="7.00" lengthAdjust="spacingAndGlyphs" fill="#333">29</text>
<text x="356.54" y="580.50" font-size="6.0" stroke="#333" stroke-width="0.15" text-anchor="middle" textLength="7.00" lengthAdjust="spacingAndGlyphs" fill="#333">25</text>
<text x="367.56" y="580.50" font-size="6.0" stroke="#333" stroke-width="0.15" text-anchor="middle" textLength="7.00" lengthAdjust="spacingAndGlyphs" fill="#333">23</text>
<text x="378.58" y="580.50" font-size="6.0" stroke="#333" stroke-width="0.15" text-anchor="middle" textLength="7.00" lengthAdjust="spacingAndGlyphs" fill="#333">17</text>
<text x="389.60" y="580.50" font-size="6.0" stroke="#333" stroke-width="0.15" text-anchor="middle" textLength="7.00" lengthAdjust="spacingAndGlyphs" fill="#333">12</text>
<text x="400.62" y="580.50" font-size="6.0" stroke="#333" stroke-width="0.15" text-anchor="middle" textLength="3.60" lengthAdjust="spacingAndGlyphs" fill="#333">9</text>
<text x="411.64" y="580.50" font-size="6.0" stroke="#333" stroke-width="0.15" text-anchor="middle" textLength="3.60" lengthAdjust="spacingAndGlyphs" fill="#333">6</text>
<text x="422.66" y="580.50" font-size="6.0" stroke="#333" stroke-width="0.15" text-anchor="middle" textLength="3.60" lengthAdjust="spacingAndGlyphs" fill="#333">3</text>
<text x="433.68" y="580.50" font-size="6.0" stroke="#333" stroke-width="0.15" text-anchor="middle" textLength="3.60" lengthAdjust="spacingAndGlyphs" fill="#333">0</text>
<text x="444.70" y="580.50" font-size="6.0" stroke="#333" stroke-width="0.15" text-anchor="middle" textLength="3.60" lengthAdjust="spacingAndGlyphs" fill="#333">0</text>
<text x="455.72" y="580.50" font-size="6.0" stroke="#333" stroke-width="0.15" text-anchor="middle" textLength="3.60" lengthAdjust="spacingAndGlyphs" fill="#333">0</text>
<text x="466.74" y="580.50" font-size="6.0" stroke="#333" stroke-width="0.15" text-anchor="middle" textLength="3.60" lengthAdjust="spacingAndGlyphs" fill="#333">0</text>
<text x="477.76" y="580.50" font-size="6.0" stroke="#333" stroke-width="0.15" text-anchor="middle" textLength="3.60" lengthAdjust="spacingAndGlyphs" fill="#333">0</text>
<text x="488.78" y="580.50" font-size="6.0" stroke="#333" stroke-width="0.15" text-anchor="middle" textLength="3.60" lengthAdjust="spacingAndGlyphs" fill="#333">0</text>
<text x="499.80" y="580.50" font-size="6.0" stroke="#333" stroke-width="0.15" text-anchor="middle" textLength="3.60" lengthAdjust="spacingAndGlyphs" fill="#333">0</text>
<line x1="322.7" y1="588.3" x2="326.2" y2="588.3" stroke="#2a2a2a" stroke-width="0.9"/>
<text x="320.80" y="590.30" font-size="5.7" stroke="#d4437a" stroke-width="0.15" text-anchor="end" textLength="44.70" lengthAdjust="spacingAndGlyphs" fill="#d4437a">Autologous SCT</text>
<text x="334.50" y="590.50" font-size="6.0" stroke="#333" stroke-width="0.15" text-anchor="middle" textLength="7.00" lengthAdjust="spacingAndGlyphs" fill="#333">11</text>
<text x="345.52" y="590.50" font-size="6.0" stroke="#333" stroke-width="0.15" text-anchor="middle" textLength="3.60" lengthAdjust="spacingAndGlyphs" fill="#333">9</text>
<text x="356.54" y="590.50" font-size="6.0" stroke="#333" stroke-width="0.15" text-anchor="middle" textLength="3.60" lengthAdjust="spacingAndGlyphs" fill="#333">6</text>
<text x="367.56" y="590.50" font-size="6.0" stroke="#333" stroke-width="0.15" text-anchor="middle" textLength="3.60" lengthAdjust="spacingAndGlyphs" fill="#333">6</text>
<text x="378.58" y="590.50" font-size="6.0" stroke="#333" stroke-width="0.15" text-anchor="middle" textLength="3.60" lengthAdjust="spacingAndGlyphs" fill="#333">5</text>
<text x="389.60" y="590.50" font-size="6.0" stroke="#333" stroke-width="0.15" text-anchor="middle" textLength="3.60" lengthAdjust="spacingAndGlyphs" fill="#333">4</text>
<text x="400.62" y="590.50" font-size="6.0" stroke="#333" stroke-width="0.15" text-anchor="middle" textLength="3.60" lengthAdjust="spacingAndGlyphs" fill="#333">4</text>
<text x="411.64" y="590.50" font-size="6.0" stroke="#333" stroke-width="0.15" text-anchor="middle" textLength="3.60" lengthAdjust="spacingAndGlyphs" fill="#333">2</text>
<text x="422.66" y="590.50" font-size="6.0" stroke="#333" stroke-width="0.15" text-anchor="middle" textLength="3.60" lengthAdjust="spacingAndGlyphs" fill="#333">2</text>
<text x="433.68" y="590.50" font-size="6.0" stroke="#333" stroke-width="0.15" text-anchor="middle" textLength="3.60" lengthAdjust="spacingAndGlyphs" fill="#333">2</text>
<text x="444.70" y="590.50" font-size="6.0" stroke="#333" stroke-width="0.15" text-anchor="middle" textLength="3.60" lengthAdjust="spacingAndGlyphs" fill="#333">2</text>
<text x="455.72" y="590.50" font-size="6.0" stroke="#333" stroke-width="0.15" text-anchor="middle" textLength="3.60" lengthAdjust="spacingAndGlyphs" fill="#333">2</text>
<text x="466.74" y="590.50" font-size="6.0" stroke="#333" stroke-width="0.15" text-anchor="middle" textLength="3.60" lengthAdjust="spacingAndGlyphs" fill="#333">1</text>
<text x="477.76" y="590.50" font-size="6.0" stroke="#333" stroke-width="0.15" text-anchor="middle" textLength="3.60" lengthAdjust="spacingAndGlyphs" fill="#333">1</text>
<text x="488.78" y="590.50" font-size="6.0" stroke="#333" stroke-width="0.15" text-anchor="middle" textLength="3.60" lengthAdjust="spacingAndGlyphs" fill="#333">1</text>
<text x="499.80" y="590.50" font-size="6.0" stroke="#333" stroke-width="0.15" text-anchor="middle" textLength="3.60" lengthAdjust="spacingAndGlyphs" fill="#333">0</text>
<line x1="322.7" y1="598.3" x2="326.2" y2="598.3" stroke="#2a2a2a" stroke-width="0.9"/>
<text x="320.80" y="600.30" font-size="5.7" stroke="#55709a" stroke-width="0.15" text-anchor="end" textLength="36.00" lengthAdjust="spacingAndGlyphs" fill="#55709a">No transplant</text>
<text x="334.50" y="600.50" font-size="6.0" stroke="#333" stroke-width="0.15" text-anchor="middle" textLength="7.00" lengthAdjust="spacingAndGlyphs" fill="#333">19</text>
<text x="345.52" y="600.50" font-size="6.0" stroke="#333" stroke-width="0.15" text-anchor="middle" textLength="7.00" lengthAdjust="spacingAndGlyphs" fill="#333">13</text>
<text x="356.54" y="600.50" font-size="6.0" stroke="#333" stroke-width="0.15" text-anchor="middle" textLength="7.00" lengthAdjust="spacingAndGlyphs" fill="#333">13</text>
<text x="367.56" y="600.50" font-size="6.0" stroke="#333" stroke-width="0.15" text-anchor="middle" textLength="3.60" lengthAdjust="spacingAndGlyphs" fill="#333">8</text>
<text x="378.58" y="600.50" font-size="6.0" stroke="#333" stroke-width="0.15" text-anchor="middle" textLength="3.60" lengthAdjust="spacingAndGlyphs" fill="#333">6</text>
<text x="389.60" y="600.50" font-size="6.0" stroke="#333" stroke-width="0.15" text-anchor="middle" textLength="3.60" lengthAdjust="spacingAndGlyphs" fill="#333">5</text>
<text x="400.62" y="600.50" font-size="6.0" stroke="#333" stroke-width="0.15" text-anchor="middle" textLength="3.60" lengthAdjust="spacingAndGlyphs" fill="#333">4</text>
<text x="411.64" y="600.50" font-size="6.0" stroke="#333" stroke-width="0.15" text-anchor="middle" textLength="3.60" lengthAdjust="spacingAndGlyphs" fill="#333">2</text>
<text x="422.66" y="600.50" font-size="6.0" stroke="#333" stroke-width="0.15" text-anchor="middle" textLength="3.60" lengthAdjust="spacingAndGlyphs" fill="#333">1</text>
<text x="433.68" y="600.50" font-size="6.0" stroke="#333" stroke-width="0.15" text-anchor="middle" textLength="3.60" lengthAdjust="spacingAndGlyphs" fill="#333">1</text>
<text x="444.70" y="600.50" font-size="6.0" stroke="#333" stroke-width="0.15" text-anchor="middle" textLength="3.60" lengthAdjust="spacingAndGlyphs" fill="#333">1</text>
<text x="455.72" y="600.50" font-size="6.0" stroke="#333" stroke-width="0.15" text-anchor="middle" textLength="3.60" lengthAdjust="spacingAndGlyphs" fill="#333">0</text>
<text x="466.74" y="600.50" font-size="6.0" stroke="#333" stroke-width="0.15" text-anchor="middle" textLength="3.60" lengthAdjust="spacingAndGlyphs" fill="#333">0</text>
<text x="477.76" y="600.50" font-size="6.0" stroke="#333" stroke-width="0.15" text-anchor="middle" textLength="3.60" lengthAdjust="spacingAndGlyphs" fill="#333">0</text>
<text x="488.78" y="600.50" font-size="6.0" stroke="#333" stroke-width="0.15" text-anchor="middle" textLength="3.60" lengthAdjust="spacingAndGlyphs" fill="#333">0</text>
<text x="499.80" y="600.50" font-size="6.0" stroke="#333" stroke-width="0.15" text-anchor="middle" textLength="3.60" lengthAdjust="spacingAndGlyphs" fill="#333">0</text>
<line x1="334.5" y1="604.8" x2="334.5" y2="608.0" stroke="#2a2a2a" stroke-width="0.9"/>
<text x="334.50" y="616.60" font-size="6.0" stroke="#333" stroke-width="0.15" text-anchor="middle" textLength="3.50" lengthAdjust="spacingAndGlyphs" fill="#333">0</text>
<line x1="345.52" y1="604.8" x2="345.52" y2="608.0" stroke="#2a2a2a" stroke-width="0.9"/>
<text x="345.52" y="616.60" font-size="6.0" stroke="#333" stroke-width="0.15" text-anchor="middle" textLength="3.50" lengthAdjust="spacingAndGlyphs" fill="#333">1</text>
<line x1="356.54" y1="604.8" x2="356.54" y2="608.0" stroke="#2a2a2a" stroke-width="0.9"/>
<text x="356.54" y="616.60" font-size="6.0" stroke="#333" stroke-width="0.15" text-anchor="middle" textLength="3.50" lengthAdjust="spacingAndGlyphs" fill="#333">2</text>
<line x1="367.56" y1="604.8" x2="367.56" y2="608.0" stroke="#2a2a2a" stroke-width="0.9"/>
<text x="367.56" y="616.60" font-size="6.0" stroke="#333" stroke-width="0.15" text-anchor="middle" textLength="3.50" lengthAdjust="spacingAndGlyphs" fill="#333">3</text>
<line x1="378.58" y1="604.8" x2="378.58" y2="608.0" stroke="#2a2a2a" stroke-width="0.9"/>
<text x="378.58" y="616.60" font-size="6.0" stroke="#333" stroke-width="0.15" text-anchor="middle" textLength="3.50" lengthAdjust="spacingAndGlyphs" fill="#333">4</text>
<line x1="389.6" y1="604.8" x2="389.6" y2="608.0" stroke="#2a2a2a" stroke-width="0.9"/>
<text x="389.60" y="616.60" font-size="6.0" stroke="#333" stroke-width="0.15" text-anchor="middle" textLength="3.50" lengthAdjust="spacingAndGlyphs" fill="#333">5</text>
<line x1="400.62" y1="604.8" x2="400.62" y2="608.0" stroke="#2a2a2a" stroke-width="0.9"/>
<text x="400.62" y="616.60" font-size="6.0" stroke="#333" stroke-width="0.15" text-anchor="middle" textLength="3.50" lengthAdjust="spacingAndGlyphs" fill="#333">6</text>
<line x1="411.64" y1="604.8" x2="411.64" y2="608.0" stroke="#2a2a2a" stroke-width="0.9"/>
<text x="411.64" y="616.60" font-size="6.0" stroke="#333" stroke-width="0.15" text-anchor="middle" textLength="3.50" lengthAdjust="spacingAndGlyphs" fill="#333">7</text>
<line x1="422.65999999999997" y1="604.8" x2="422.65999999999997" y2="608.0" stroke="#2a2a2a" stroke-width="0.9"/>
<text x="422.66" y="616.60" font-size="6.0" stroke="#333" stroke-width="0.15" text-anchor="middle" textLength="3.50" lengthAdjust="spacingAndGlyphs" fill="#333">8</text>
<line x1="433.68" y1="604.8" x2="433.68" y2="608.0" stroke="#2a2a2a" stroke-width="0.9"/>
<text x="433.68" y="616.60" font-size="6.0" stroke="#333" stroke-width="0.15" text-anchor="middle" textLength="3.50" lengthAdjust="spacingAndGlyphs" fill="#333">9</text>
<line x1="444.7" y1="604.8" x2="444.7" y2="608.0" stroke="#2a2a2a" stroke-width="0.9"/>
<text x="444.70" y="616.60" font-size="6.0" stroke="#333" stroke-width="0.15" text-anchor="middle" textLength="7.00" lengthAdjust="spacingAndGlyphs" fill="#333">10</text>
<line x1="455.72" y1="604.8" x2="455.72" y2="608.0" stroke="#2a2a2a" stroke-width="0.9"/>
<text x="455.72" y="616.60" font-size="6.0" stroke="#333" stroke-width="0.15" text-anchor="middle" textLength="7.00" lengthAdjust="spacingAndGlyphs" fill="#333">11</text>
<line x1="466.74" y1="604.8" x2="466.74" y2="608.0" stroke="#2a2a2a" stroke-width="0.9"/>
<text x="466.74" y="616.60" font-size="6.0" stroke="#333" stroke-width="0.15" text-anchor="middle" textLength="7.00" lengthAdjust="spacingAndGlyphs" fill="#333">12</text>
<line x1="477.76" y1="604.8" x2="477.76" y2="608.0" stroke="#2a2a2a" stroke-width="0.9"/>
<text x="477.76" y="616.60" font-size="6.0" stroke="#333" stroke-width="0.15" text-anchor="middle" textLength="7.00" lengthAdjust="spacingAndGlyphs" fill="#333">13</text>
<line x1="488.78" y1="604.8" x2="488.78" y2="608.0" stroke="#2a2a2a" stroke-width="0.9"/>
<text x="488.78" y="616.60" font-size="6.0" stroke="#333" stroke-width="0.15" text-anchor="middle" textLength="7.00" lengthAdjust="spacingAndGlyphs" fill="#333">14</text>
<line x1="499.79999999999995" y1="604.8" x2="499.79999999999995" y2="608.0" stroke="#2a2a2a" stroke-width="0.9"/>
<text x="499.80" y="616.60" font-size="6.0" stroke="#333" stroke-width="0.15" text-anchor="middle" textLength="7.00" lengthAdjust="spacingAndGlyphs" fill="#333">15</text>
<path d="M326.2 571.2 V604.8 H508.2" fill="none" stroke="#2a2a2a" stroke-width="1.1"/>
<text x="417.15" y="628.30" font-size="8.7" stroke="#222" stroke-width="0.15" text-anchor="middle" textLength="32.00" lengthAdjust="spacingAndGlyphs" fill="#222">Time (years)</text>
<text x="271.00" y="588.00" font-size="8.4" stroke="#222" stroke-width="0.15" text-anchor="middle" textLength="15.60" lengthAdjust="spacingAndGlyphs" fill="#222" transform="rotate(-90 271.00 588.00)">Strata</text>
<rect x="0.5" y="0.5" width="519" height="636" fill="none" stroke="#5a5a5a" stroke-width="1"/>
</svg>
</body></html>
